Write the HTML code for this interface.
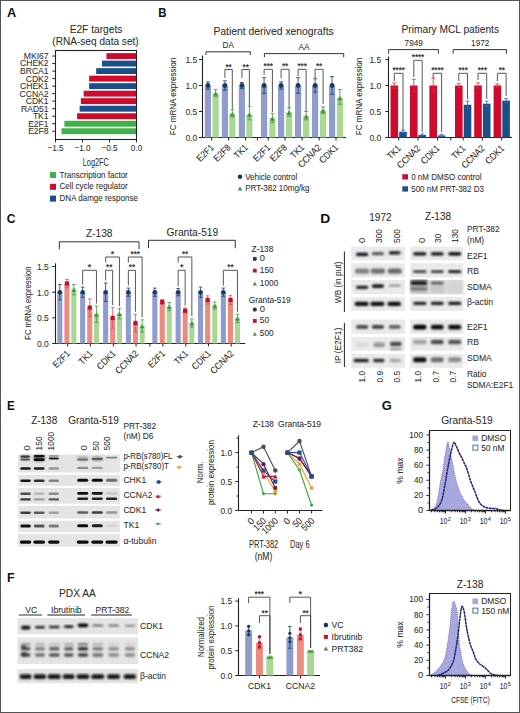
<!DOCTYPE html>
<html><head><meta charset="utf-8"><style>
html,body{margin:0;padding:0;background:#fff;}
body{width:520px;height:713px;overflow:hidden;position:relative;}
svg{position:absolute;left:0;top:0;font-family:"Liberation Sans", sans-serif;}
</style></head><body>
<svg width="520" height="713" viewBox="0 0 520 713">
<defs>
<filter id="bl0" x="-50%" y="-50%" width="200%" height="200%"><feGaussianBlur stdDeviation="0.45"/></filter>
<filter id="bl1" x="-50%" y="-50%" width="200%" height="200%"><feGaussianBlur stdDeviation="0.8"/></filter>
<filter id="bl2" x="-50%" y="-50%" width="200%" height="200%"><feGaussianBlur stdDeviation="1.2"/></filter>
</defs>
<rect x="0" y="0" width="520" height="713" fill="#fff"/>
<text x="0" y="0" font-size="12.5" font-weight="bold" fill="#111" transform="translate(6.88 16.80) scale(1.026 1)">A</text>
<text x="96.00" y="32.50" font-size="11.42" text-anchor="middle" fill="#2b2b2b" textLength="52.72" lengthAdjust="spacingAndGlyphs" stroke="#2b2b2b" stroke-width="0.06" >E2F targets</text>
<text x="95.50" y="44.50" font-size="11.31" text-anchor="middle" fill="#2b2b2b" textLength="86.44" lengthAdjust="spacingAndGlyphs" stroke="#2b2b2b" stroke-width="0.06" >(RNA-seq data set)</text>
<rect x="106.48" y="53.10" width="30.02" height="5.90" fill="#cf0a2c" />
<line x1="52.20" y1="56.05" x2="55.50" y2="56.05" stroke="#222" stroke-width="1" />
<text x="48.60" y="58.95" font-size="8.96" text-anchor="end" fill="#2b2b2b" textLength="24.74" lengthAdjust="spacingAndGlyphs" stroke="#2b2b2b" stroke-width="0.06" >MKI67</text>
<rect x="102.05" y="60.62" width="34.45" height="5.90" fill="#1a4f8b" />
<line x1="52.20" y1="63.57" x2="55.50" y2="63.57" stroke="#222" stroke-width="1" />
<text x="48.60" y="66.47" font-size="8.96" text-anchor="end" fill="#2b2b2b" textLength="28.54" lengthAdjust="spacingAndGlyphs" stroke="#2b2b2b" stroke-width="0.06" >CHEK2</text>
<rect x="96.16" y="68.14" width="40.34" height="5.90" fill="#1a4f8b" />
<line x1="52.20" y1="71.09" x2="55.50" y2="71.09" stroke="#222" stroke-width="1" />
<text x="48.60" y="73.99" font-size="8.96" text-anchor="end" fill="#2b2b2b" textLength="28.54" lengthAdjust="spacingAndGlyphs" stroke="#2b2b2b" stroke-width="0.06" >BRCA1</text>
<rect x="89.14" y="75.66" width="47.36" height="5.90" fill="#cf0a2c" />
<line x1="52.20" y1="78.61" x2="55.50" y2="78.61" stroke="#222" stroke-width="1" />
<text x="48.60" y="81.51" font-size="8.96" text-anchor="end" fill="#2b2b2b" textLength="22.83" lengthAdjust="spacingAndGlyphs" stroke="#2b2b2b" stroke-width="0.06" >CDK2</text>
<rect x="89.14" y="83.18" width="47.36" height="5.90" fill="#1a4f8b" />
<line x1="52.20" y1="86.13" x2="55.50" y2="86.13" stroke="#222" stroke-width="1" />
<text x="48.60" y="89.03" font-size="8.96" text-anchor="end" fill="#2b2b2b" textLength="28.54" lengthAdjust="spacingAndGlyphs" stroke="#2b2b2b" stroke-width="0.06" >CHEK1</text>
<rect x="83.63" y="90.70" width="52.87" height="5.90" fill="#cf0a2c" />
<line x1="52.20" y1="93.65" x2="55.50" y2="93.65" stroke="#222" stroke-width="1" />
<text x="48.60" y="96.55" font-size="8.96" text-anchor="end" fill="#2b2b2b" textLength="29.02" lengthAdjust="spacingAndGlyphs" stroke="#2b2b2b" stroke-width="0.06" >CCNA2</text>
<rect x="80.88" y="98.22" width="55.62" height="5.90" fill="#cf0a2c" />
<line x1="52.20" y1="101.17" x2="55.50" y2="101.17" stroke="#222" stroke-width="1" />
<text x="48.60" y="104.07" font-size="8.96" text-anchor="end" fill="#2b2b2b" textLength="22.83" lengthAdjust="spacingAndGlyphs" stroke="#2b2b2b" stroke-width="0.06" >CDK1</text>
<rect x="79.64" y="105.74" width="56.86" height="5.90" fill="#1a4f8b" />
<line x1="52.20" y1="108.69" x2="55.50" y2="108.69" stroke="#222" stroke-width="1" />
<text x="48.60" y="111.59" font-size="8.96" text-anchor="end" fill="#2b2b2b" textLength="27.60" lengthAdjust="spacingAndGlyphs" stroke="#2b2b2b" stroke-width="0.06" >RAD51</text>
<rect x="77.10" y="113.26" width="59.40" height="5.90" fill="#cf0a2c" />
<line x1="52.20" y1="116.21" x2="55.50" y2="116.21" stroke="#222" stroke-width="1" />
<text x="48.60" y="119.11" font-size="8.96" text-anchor="end" fill="#2b2b2b" textLength="15.70" lengthAdjust="spacingAndGlyphs" stroke="#2b2b2b" stroke-width="0.06" >TK1</text>
<rect x="64.41" y="120.78" width="72.09" height="5.90" fill="#3fb04a" />
<line x1="52.20" y1="123.73" x2="55.50" y2="123.73" stroke="#222" stroke-width="1" />
<text x="48.60" y="126.63" font-size="8.96" text-anchor="end" fill="#2b2b2b" textLength="20.46" lengthAdjust="spacingAndGlyphs" stroke="#2b2b2b" stroke-width="0.06" >E2F1</text>
<rect x="61.60" y="128.30" width="74.90" height="5.90" fill="#3fb04a" />
<line x1="52.20" y1="131.25" x2="55.50" y2="131.25" stroke="#222" stroke-width="1" />
<text x="48.60" y="134.15" font-size="8.96" text-anchor="end" fill="#2b2b2b" textLength="20.46" lengthAdjust="spacingAndGlyphs" stroke="#2b2b2b" stroke-width="0.06" >E2F8</text>
<rect x="55.50" y="50.50" width="81.00" height="89.00" fill="none" stroke="#222" stroke-width="1.1"/>
<line x1="55.50" y1="139.50" x2="55.50" y2="142.50" stroke="#222" stroke-width="1" />
<text x="55.50" y="151.30" font-size="9.18" text-anchor="middle" fill="#2b2b2b" textLength="16.19" lengthAdjust="spacingAndGlyphs" stroke="#2b2b2b" stroke-width="0.06" >−1.5</text>
<line x1="82.50" y1="139.50" x2="82.50" y2="142.50" stroke="#222" stroke-width="1" />
<text x="82.50" y="151.30" font-size="9.18" text-anchor="middle" fill="#2b2b2b" textLength="16.19" lengthAdjust="spacingAndGlyphs" stroke="#2b2b2b" stroke-width="0.06" >−1.0</text>
<line x1="109.50" y1="139.50" x2="109.50" y2="142.50" stroke="#222" stroke-width="1" />
<text x="109.50" y="151.30" font-size="9.18" text-anchor="middle" fill="#2b2b2b" textLength="16.19" lengthAdjust="spacingAndGlyphs" stroke="#2b2b2b" stroke-width="0.06" >−0.5</text>
<line x1="136.50" y1="139.50" x2="136.50" y2="142.50" stroke="#222" stroke-width="1" />
<text x="136.50" y="151.30" font-size="9.18" text-anchor="middle" fill="#2b2b2b" textLength="11.40" lengthAdjust="spacingAndGlyphs" stroke="#2b2b2b" stroke-width="0.06" >0.0</text>
<text x="95.80" y="165.80" font-size="10.60" text-anchor="middle" fill="#2b2b2b" textLength="26.00" lengthAdjust="spacingAndGlyphs" stroke="#2b2b2b" stroke-width="0.06" >Log2FC</text>
<rect x="50.00" y="172.00" width="6.00" height="6.00" fill="#3fb04a" />
<text x="59.60" y="177.60" font-size="8.96" text-anchor="start" fill="#2b2b2b" textLength="68.17" lengthAdjust="spacingAndGlyphs" stroke="#2b2b2b" stroke-width="0.06" >Transcription factor</text>
<rect x="50.00" y="183.80" width="6.00" height="6.00" fill="#cf0a2c" />
<text x="59.60" y="189.40" font-size="8.96" text-anchor="start" fill="#2b2b2b" textLength="68.03" lengthAdjust="spacingAndGlyphs" stroke="#2b2b2b" stroke-width="0.06" >Cell cycle regulator</text>
<rect x="50.00" y="195.60" width="6.00" height="6.00" fill="#1a4f8b" />
<text x="59.60" y="201.20" font-size="8.96" text-anchor="start" fill="#2b2b2b" textLength="78.27" lengthAdjust="spacingAndGlyphs" stroke="#2b2b2b" stroke-width="0.06" >DNA damge response</text>
<text x="0" y="0" font-size="12.5" font-weight="bold" fill="#111" transform="translate(158.33 16.90) scale(0.919 1)">B</text>
<text x="273.60" y="35.30" font-size="11.60" text-anchor="middle" fill="#2b2b2b" textLength="120.37" lengthAdjust="spacingAndGlyphs" stroke="#2b2b2b" stroke-width="0.06" >Patient derived xenografts</text>
<line x1="202.50" y1="55.60" x2="202.50" y2="137.50" stroke="#222" stroke-width="1.1" />
<line x1="202.50" y1="137.50" x2="346.00" y2="137.50" stroke="#222" stroke-width="1.1" />
<line x1="199.00" y1="137.50" x2="202.50" y2="137.50" stroke="#222" stroke-width="1" />
<text x="197.20" y="140.80" font-size="9.52" text-anchor="end" fill="#2b2b2b" textLength="11.82" lengthAdjust="spacingAndGlyphs" stroke="#2b2b2b" stroke-width="0.06" >0.0</text>
<line x1="199.00" y1="111.50" x2="202.50" y2="111.50" stroke="#222" stroke-width="1" />
<text x="197.20" y="114.80" font-size="9.52" text-anchor="end" fill="#2b2b2b" textLength="11.82" lengthAdjust="spacingAndGlyphs" stroke="#2b2b2b" stroke-width="0.06" >0.5</text>
<line x1="199.00" y1="85.50" x2="202.50" y2="85.50" stroke="#222" stroke-width="1" />
<text x="197.20" y="88.80" font-size="9.52" text-anchor="end" fill="#2b2b2b" textLength="11.82" lengthAdjust="spacingAndGlyphs" stroke="#2b2b2b" stroke-width="0.06" >1.0</text>
<line x1="199.00" y1="59.50" x2="202.50" y2="59.50" stroke="#222" stroke-width="1" />
<text x="197.20" y="62.80" font-size="9.52" text-anchor="end" fill="#2b2b2b" textLength="11.82" lengthAdjust="spacingAndGlyphs" stroke="#2b2b2b" stroke-width="0.06" >1.5</text>
<text x="176.00" y="96.50" font-size="8.60" text-anchor="middle" fill="#2b2b2b" textLength="77.40" lengthAdjust="spacingAndGlyphs" stroke="#2b2b2b" stroke-width="0.06" transform="rotate(-90 176.00 96.50)" >FC mRNA expression</text>
<rect x="204.80" y="85.50" width="6.20" height="52.00" fill="#8f9dcc" />
<rect x="212.50" y="93.56" width="6.20" height="43.94" fill="#abd794" />
<line x1="207.90" y1="81.86" x2="207.90" y2="89.14" stroke="#173a63" stroke-width="0.8" />
<line x1="205.90" y1="81.86" x2="209.90" y2="81.86" stroke="#173a63" stroke-width="0.8" />
<line x1="205.90" y1="89.14" x2="209.90" y2="89.14" stroke="#173a63" stroke-width="0.8" />
<line x1="215.60" y1="89.40" x2="215.60" y2="96.68" stroke="#3c9a3c" stroke-width="0.8" />
<line x1="213.60" y1="89.40" x2="217.60" y2="89.40" stroke="#3c9a3c" stroke-width="0.8" />
<line x1="213.60" y1="96.68" x2="217.60" y2="96.68" stroke="#3c9a3c" stroke-width="0.8" />
<circle cx="207.90" cy="85.50" r="2.4" fill="#173a63" />
<path d="M213.10,95.81 L218.10,95.81 L215.60,91.31 Z" fill="#3c9a3c"/>
<line x1="211.75" y1="137.50" x2="211.75" y2="140.50" stroke="#222" stroke-width="1" />
<rect x="221.80" y="85.50" width="6.20" height="52.00" fill="#8f9dcc" />
<rect x="229.20" y="113.89" width="6.20" height="23.61" fill="#abd794" />
<line x1="224.90" y1="80.82" x2="224.90" y2="90.18" stroke="#173a63" stroke-width="0.8" />
<line x1="222.90" y1="80.82" x2="226.90" y2="80.82" stroke="#173a63" stroke-width="0.8" />
<line x1="222.90" y1="90.18" x2="226.90" y2="90.18" stroke="#173a63" stroke-width="0.8" />
<line x1="232.30" y1="109.73" x2="232.30" y2="117.01" stroke="#3c9a3c" stroke-width="0.8" />
<line x1="230.30" y1="109.73" x2="234.30" y2="109.73" stroke="#3c9a3c" stroke-width="0.8" />
<line x1="230.30" y1="117.01" x2="234.30" y2="117.01" stroke="#3c9a3c" stroke-width="0.8" />
<circle cx="224.90" cy="85.50" r="2.4" fill="#173a63" />
<path d="M229.80,116.14 L234.80,116.14 L232.30,111.64 Z" fill="#3c9a3c"/>
<line x1="228.60" y1="137.50" x2="228.60" y2="140.50" stroke="#222" stroke-width="1" />
<rect x="238.80" y="85.50" width="6.20" height="52.00" fill="#8f9dcc" />
<rect x="246.30" y="114.62" width="6.20" height="22.88" fill="#abd794" />
<line x1="241.90" y1="82.38" x2="241.90" y2="88.62" stroke="#173a63" stroke-width="0.8" />
<line x1="239.90" y1="82.38" x2="243.90" y2="82.38" stroke="#173a63" stroke-width="0.8" />
<line x1="239.90" y1="88.62" x2="243.90" y2="88.62" stroke="#173a63" stroke-width="0.8" />
<line x1="249.40" y1="106.30" x2="249.40" y2="119.82" stroke="#3c9a3c" stroke-width="0.8" />
<line x1="247.40" y1="106.30" x2="251.40" y2="106.30" stroke="#3c9a3c" stroke-width="0.8" />
<line x1="247.40" y1="119.82" x2="251.40" y2="119.82" stroke="#3c9a3c" stroke-width="0.8" />
<circle cx="241.90" cy="85.50" r="2.4" fill="#173a63" />
<path d="M246.90,116.87 L251.90,116.87 L249.40,112.37 Z" fill="#3c9a3c"/>
<line x1="245.65" y1="137.50" x2="245.65" y2="140.50" stroke="#222" stroke-width="1" />
<rect x="261.00" y="85.50" width="6.20" height="52.00" fill="#8f9dcc" />
<rect x="269.30" y="118.52" width="6.20" height="18.98" fill="#abd794" />
<line x1="264.10" y1="77.70" x2="264.10" y2="93.30" stroke="#173a63" stroke-width="0.8" />
<line x1="262.10" y1="77.70" x2="266.10" y2="77.70" stroke="#173a63" stroke-width="0.8" />
<line x1="262.10" y1="93.30" x2="266.10" y2="93.30" stroke="#173a63" stroke-width="0.8" />
<line x1="272.40" y1="113.32" x2="272.40" y2="122.68" stroke="#3c9a3c" stroke-width="0.8" />
<line x1="270.40" y1="113.32" x2="274.40" y2="113.32" stroke="#3c9a3c" stroke-width="0.8" />
<line x1="270.40" y1="122.68" x2="274.40" y2="122.68" stroke="#3c9a3c" stroke-width="0.8" />
<circle cx="264.10" cy="85.50" r="2.4" fill="#173a63" />
<path d="M269.90,120.77 L274.90,120.77 L272.40,116.27 Z" fill="#3c9a3c"/>
<line x1="268.25" y1="137.50" x2="268.25" y2="140.50" stroke="#222" stroke-width="1" />
<rect x="278.00" y="85.50" width="6.20" height="52.00" fill="#8f9dcc" />
<rect x="286.00" y="112.54" width="6.20" height="24.96" fill="#abd794" />
<line x1="281.10" y1="81.86" x2="281.10" y2="89.14" stroke="#173a63" stroke-width="0.8" />
<line x1="279.10" y1="81.86" x2="283.10" y2="81.86" stroke="#173a63" stroke-width="0.8" />
<line x1="279.10" y1="89.14" x2="283.10" y2="89.14" stroke="#173a63" stroke-width="0.8" />
<line x1="289.10" y1="107.86" x2="289.10" y2="116.18" stroke="#3c9a3c" stroke-width="0.8" />
<line x1="287.10" y1="107.86" x2="291.10" y2="107.86" stroke="#3c9a3c" stroke-width="0.8" />
<line x1="287.10" y1="116.18" x2="291.10" y2="116.18" stroke="#3c9a3c" stroke-width="0.8" />
<circle cx="281.10" cy="85.50" r="2.4" fill="#173a63" />
<path d="M286.60,114.79 L291.60,114.79 L289.10,110.29 Z" fill="#3c9a3c"/>
<line x1="285.10" y1="137.50" x2="285.10" y2="140.50" stroke="#222" stroke-width="1" />
<rect x="295.00" y="85.50" width="6.20" height="52.00" fill="#8f9dcc" />
<rect x="303.00" y="116.18" width="6.20" height="21.32" fill="#abd794" />
<line x1="298.10" y1="77.70" x2="298.10" y2="93.30" stroke="#173a63" stroke-width="0.8" />
<line x1="296.10" y1="77.70" x2="300.10" y2="77.70" stroke="#173a63" stroke-width="0.8" />
<line x1="296.10" y1="93.30" x2="300.10" y2="93.30" stroke="#173a63" stroke-width="0.8" />
<line x1="306.10" y1="111.50" x2="306.10" y2="119.82" stroke="#3c9a3c" stroke-width="0.8" />
<line x1="304.10" y1="111.50" x2="308.10" y2="111.50" stroke="#3c9a3c" stroke-width="0.8" />
<line x1="304.10" y1="119.82" x2="308.10" y2="119.82" stroke="#3c9a3c" stroke-width="0.8" />
<circle cx="298.10" cy="85.50" r="2.4" fill="#173a63" />
<path d="M303.60,118.43 L308.60,118.43 L306.10,113.93 Z" fill="#3c9a3c"/>
<line x1="302.10" y1="137.50" x2="302.10" y2="140.50" stroke="#222" stroke-width="1" />
<rect x="312.00" y="85.50" width="6.20" height="52.00" fill="#8f9dcc" />
<rect x="320.00" y="110.46" width="6.20" height="27.04" fill="#abd794" />
<line x1="315.10" y1="78.74" x2="315.10" y2="92.26" stroke="#173a63" stroke-width="0.8" />
<line x1="313.10" y1="78.74" x2="317.10" y2="78.74" stroke="#173a63" stroke-width="0.8" />
<line x1="313.10" y1="92.26" x2="317.10" y2="92.26" stroke="#173a63" stroke-width="0.8" />
<line x1="323.10" y1="106.82" x2="323.10" y2="113.58" stroke="#3c9a3c" stroke-width="0.8" />
<line x1="321.10" y1="106.82" x2="325.10" y2="106.82" stroke="#3c9a3c" stroke-width="0.8" />
<line x1="321.10" y1="113.58" x2="325.10" y2="113.58" stroke="#3c9a3c" stroke-width="0.8" />
<circle cx="315.10" cy="85.50" r="2.4" fill="#173a63" />
<path d="M320.60,112.71 L325.60,112.71 L323.10,108.21 Z" fill="#3c9a3c"/>
<line x1="319.10" y1="137.50" x2="319.10" y2="140.50" stroke="#222" stroke-width="1" />
<rect x="329.00" y="85.50" width="6.20" height="52.00" fill="#8f9dcc" />
<rect x="336.80" y="97.98" width="6.20" height="39.52" fill="#abd794" />
<line x1="332.10" y1="76.66" x2="332.10" y2="94.34" stroke="#173a63" stroke-width="0.8" />
<line x1="330.10" y1="76.66" x2="334.10" y2="76.66" stroke="#173a63" stroke-width="0.8" />
<line x1="330.10" y1="94.34" x2="334.10" y2="94.34" stroke="#173a63" stroke-width="0.8" />
<line x1="339.90" y1="89.66" x2="339.90" y2="104.22" stroke="#3c9a3c" stroke-width="0.8" />
<line x1="337.90" y1="89.66" x2="341.90" y2="89.66" stroke="#3c9a3c" stroke-width="0.8" />
<line x1="337.90" y1="104.22" x2="341.90" y2="104.22" stroke="#3c9a3c" stroke-width="0.8" />
<circle cx="332.10" cy="85.50" r="2.4" fill="#173a63" />
<path d="M337.40,100.23 L342.40,100.23 L339.90,95.73 Z" fill="#3c9a3c"/>
<line x1="336.00" y1="137.50" x2="336.00" y2="140.50" stroke="#222" stroke-width="1" />
<line x1="257.40" y1="137.50" x2="257.40" y2="140.50" stroke="#222" stroke-width="1" />
<path d="M224.90,77.90 L224.90,69.50 L232.30,69.50 L232.30,108.90" stroke="#444" fill="none" stroke-width="0.9" />
<text x="228.60" y="69.60" font-size="8.96" text-anchor="middle" fill="#3a3a3a" font-weight="bold" textLength="6.23" lengthAdjust="spacingAndGlyphs" >**</text>
<path d="M241.90,77.90 L241.90,69.50 L249.40,69.50 L249.40,105.90" stroke="#444" fill="none" stroke-width="0.9" />
<text x="245.65" y="69.60" font-size="8.96" text-anchor="middle" fill="#3a3a3a" font-weight="bold" textLength="6.23" lengthAdjust="spacingAndGlyphs" >**</text>
<path d="M264.10,74.90 L264.10,69.30 L272.40,69.30 L272.40,112.00" stroke="#444" fill="none" stroke-width="0.9" />
<text x="268.25" y="69.40" font-size="8.96" text-anchor="middle" fill="#3a3a3a" font-weight="bold" textLength="9.34" lengthAdjust="spacingAndGlyphs" >***</text>
<path d="M281.10,78.50 L281.10,69.30 L289.10,69.30 L289.10,108.00" stroke="#444" fill="none" stroke-width="0.9" />
<text x="285.10" y="69.40" font-size="8.96" text-anchor="middle" fill="#3a3a3a" font-weight="bold" textLength="6.23" lengthAdjust="spacingAndGlyphs" >**</text>
<path d="M298.10,76.00 L298.10,69.30 L306.10,69.30 L306.10,111.00" stroke="#444" fill="none" stroke-width="0.9" />
<text x="302.10" y="69.40" font-size="8.96" text-anchor="middle" fill="#3a3a3a" font-weight="bold" textLength="9.34" lengthAdjust="spacingAndGlyphs" >***</text>
<path d="M315.10,78.00 L315.10,69.30 L323.10,69.30 L323.10,104.00" stroke="#444" fill="none" stroke-width="0.9" />
<text x="319.10" y="69.40" font-size="8.96" text-anchor="middle" fill="#3a3a3a" font-weight="bold" textLength="6.23" lengthAdjust="spacingAndGlyphs" >**</text>
<path d="M206,55 L206,51.8 L250.3,51.8 L250.3,55" stroke="#333" fill="none" stroke-width="1" />
<text x="228.30" y="48.30" font-size="9.18" text-anchor="middle" fill="#2b2b2b" textLength="11.39" lengthAdjust="spacingAndGlyphs" stroke="#2b2b2b" stroke-width="0.06" >DA</text>
<path d="M264.4,57.2 L264.4,53.6 L343.7,53.6 L343.7,57.2" stroke="#333" fill="none" stroke-width="1" />
<text x="304.00" y="49.80" font-size="9.18" text-anchor="middle" fill="#2b2b2b" textLength="10.94" lengthAdjust="spacingAndGlyphs" stroke="#2b2b2b" stroke-width="0.06" >AA</text>
<text x="214.55" y="148.10" font-size="9.41" text-anchor="end" fill="#2b2b2b" textLength="20.08" lengthAdjust="spacingAndGlyphs" stroke="#2b2b2b" stroke-width="0.06" transform="rotate(-45 214.55 148.10)" >E2F1</text>
<text x="231.40" y="148.10" font-size="9.41" text-anchor="end" fill="#2b2b2b" textLength="20.08" lengthAdjust="spacingAndGlyphs" stroke="#2b2b2b" stroke-width="0.06" transform="rotate(-45 231.40 148.10)" >E2F8</text>
<text x="248.45" y="148.10" font-size="9.41" text-anchor="end" fill="#2b2b2b" textLength="15.41" lengthAdjust="spacingAndGlyphs" stroke="#2b2b2b" stroke-width="0.06" transform="rotate(-45 248.45 148.10)" >TK1</text>
<text x="271.05" y="148.10" font-size="9.41" text-anchor="end" fill="#2b2b2b" textLength="20.08" lengthAdjust="spacingAndGlyphs" stroke="#2b2b2b" stroke-width="0.06" transform="rotate(-45 271.05 148.10)" >E2F1</text>
<text x="287.90" y="148.10" font-size="9.41" text-anchor="end" fill="#2b2b2b" textLength="20.08" lengthAdjust="spacingAndGlyphs" stroke="#2b2b2b" stroke-width="0.06" transform="rotate(-45 287.90 148.10)" >E2F8</text>
<text x="304.90" y="148.10" font-size="9.41" text-anchor="end" fill="#2b2b2b" textLength="15.41" lengthAdjust="spacingAndGlyphs" stroke="#2b2b2b" stroke-width="0.06" transform="rotate(-45 304.90 148.10)" >TK1</text>
<text x="321.90" y="148.10" font-size="9.41" text-anchor="end" fill="#2b2b2b" textLength="28.47" lengthAdjust="spacingAndGlyphs" stroke="#2b2b2b" stroke-width="0.06" transform="rotate(-45 321.90 148.10)" >CCNA2</text>
<text x="338.80" y="148.10" font-size="9.41" text-anchor="end" fill="#2b2b2b" textLength="22.41" lengthAdjust="spacingAndGlyphs" stroke="#2b2b2b" stroke-width="0.06" transform="rotate(-45 338.80 148.10)" >CDK1</text>
<circle cx="240.00" cy="176.70" r="2.3" fill="#173a63" />
<text x="245.20" y="179.60" font-size="8.96" text-anchor="start" fill="#2b2b2b" textLength="52.03" lengthAdjust="spacingAndGlyphs" stroke="#2b2b2b" stroke-width="0.06" >Vehicle control</text>
<path d="M237.70,190.47 L242.30,190.47 L240.00,186.33 Z" fill="#3c9a3c"/>
<text x="245.20" y="191.30" font-size="8.96" text-anchor="start" fill="#2b2b2b" textLength="64.33" lengthAdjust="spacingAndGlyphs" stroke="#2b2b2b" stroke-width="0.06" >PRT-382 10mg/kg</text>
<text x="450.30" y="32.90" font-size="11.40" text-anchor="middle" fill="#2b2b2b" textLength="97.49" lengthAdjust="spacingAndGlyphs" stroke="#2b2b2b" stroke-width="0.06" >Primary MCL patients</text>
<line x1="388.50" y1="56.50" x2="388.50" y2="137.50" stroke="#222" stroke-width="1.1" />
<line x1="388.50" y1="137.50" x2="512.00" y2="137.50" stroke="#222" stroke-width="1.1" />
<line x1="385.30" y1="137.50" x2="388.50" y2="137.50" stroke="#222" stroke-width="1" />
<text x="381.20" y="140.80" font-size="9.52" text-anchor="end" fill="#2b2b2b" textLength="11.82" lengthAdjust="spacingAndGlyphs" stroke="#2b2b2b" stroke-width="0.06" >0.0</text>
<line x1="385.30" y1="111.50" x2="388.50" y2="111.50" stroke="#222" stroke-width="1" />
<text x="381.20" y="114.80" font-size="9.52" text-anchor="end" fill="#2b2b2b" textLength="11.82" lengthAdjust="spacingAndGlyphs" stroke="#2b2b2b" stroke-width="0.06" >0.5</text>
<line x1="385.30" y1="85.50" x2="388.50" y2="85.50" stroke="#222" stroke-width="1" />
<text x="381.20" y="88.80" font-size="9.52" text-anchor="end" fill="#2b2b2b" textLength="11.82" lengthAdjust="spacingAndGlyphs" stroke="#2b2b2b" stroke-width="0.06" >1.0</text>
<line x1="385.30" y1="59.50" x2="388.50" y2="59.50" stroke="#222" stroke-width="1" />
<text x="381.20" y="62.80" font-size="9.52" text-anchor="end" fill="#2b2b2b" textLength="11.82" lengthAdjust="spacingAndGlyphs" stroke="#2b2b2b" stroke-width="0.06" >1.5</text>
<text x="361.80" y="96.50" font-size="8.60" text-anchor="middle" fill="#2b2b2b" textLength="77.40" lengthAdjust="spacingAndGlyphs" stroke="#2b2b2b" stroke-width="0.06" transform="rotate(-90 361.80 96.50)" >FC mRNA expression</text>
<rect x="390.50" y="85.50" width="7.60" height="52.00" fill="#cf0a2c" />
<rect x="399.20" y="131.78" width="7.60" height="5.72" fill="#1a4f8b" />
<line x1="394.30" y1="82.90" x2="394.30" y2="88.10" stroke="#c83848" stroke-width="0.8" />
<line x1="392.30" y1="82.90" x2="396.30" y2="82.90" stroke="#c83848" stroke-width="0.8" />
<line x1="392.30" y1="88.10" x2="396.30" y2="88.10" stroke="#c83848" stroke-width="0.8" />
<line x1="403.00" y1="130.22" x2="403.00" y2="133.34" stroke="#3a6aa8" stroke-width="0.8" />
<line x1="401.00" y1="130.22" x2="405.00" y2="130.22" stroke="#3a6aa8" stroke-width="0.8" />
<line x1="401.00" y1="133.34" x2="405.00" y2="133.34" stroke="#3a6aa8" stroke-width="0.8" />
<line x1="398.65" y1="137.50" x2="398.65" y2="140.50" stroke="#222" stroke-width="1" />
<rect x="410.00" y="85.50" width="7.60" height="52.00" fill="#cf0a2c" />
<rect x="418.40" y="134.90" width="7.60" height="2.60" fill="#1a4f8b" />
<line x1="413.80" y1="79.26" x2="413.80" y2="91.74" stroke="#c83848" stroke-width="0.8" />
<line x1="411.80" y1="79.26" x2="415.80" y2="79.26" stroke="#c83848" stroke-width="0.8" />
<line x1="411.80" y1="91.74" x2="415.80" y2="91.74" stroke="#c83848" stroke-width="0.8" />
<line x1="422.20" y1="133.86" x2="422.20" y2="135.94" stroke="#3a6aa8" stroke-width="0.8" />
<line x1="420.20" y1="133.86" x2="424.20" y2="133.86" stroke="#3a6aa8" stroke-width="0.8" />
<line x1="420.20" y1="135.94" x2="424.20" y2="135.94" stroke="#3a6aa8" stroke-width="0.8" />
<line x1="418.00" y1="137.50" x2="418.00" y2="140.50" stroke="#222" stroke-width="1" />
<rect x="429.40" y="85.50" width="7.60" height="52.00" fill="#cf0a2c" />
<rect x="437.80" y="135.42" width="7.60" height="2.08" fill="#1a4f8b" />
<line x1="433.20" y1="78.22" x2="433.20" y2="92.78" stroke="#c83848" stroke-width="0.8" />
<line x1="431.20" y1="78.22" x2="435.20" y2="78.22" stroke="#c83848" stroke-width="0.8" />
<line x1="431.20" y1="92.78" x2="435.20" y2="92.78" stroke="#c83848" stroke-width="0.8" />
<line x1="441.60" y1="134.38" x2="441.60" y2="136.46" stroke="#3a6aa8" stroke-width="0.8" />
<line x1="439.60" y1="134.38" x2="443.60" y2="134.38" stroke="#3a6aa8" stroke-width="0.8" />
<line x1="439.60" y1="136.46" x2="443.60" y2="136.46" stroke="#3a6aa8" stroke-width="0.8" />
<line x1="437.40" y1="137.50" x2="437.40" y2="140.50" stroke="#222" stroke-width="1" />
<rect x="455.00" y="85.50" width="7.60" height="52.00" fill="#cf0a2c" />
<rect x="463.70" y="104.74" width="7.60" height="32.76" fill="#1a4f8b" />
<line x1="458.80" y1="83.42" x2="458.80" y2="87.58" stroke="#c83848" stroke-width="0.8" />
<line x1="456.80" y1="83.42" x2="460.80" y2="83.42" stroke="#c83848" stroke-width="0.8" />
<line x1="456.80" y1="87.58" x2="460.80" y2="87.58" stroke="#c83848" stroke-width="0.8" />
<line x1="467.50" y1="101.10" x2="467.50" y2="108.38" stroke="#3a6aa8" stroke-width="0.8" />
<line x1="465.50" y1="101.10" x2="469.50" y2="101.10" stroke="#3a6aa8" stroke-width="0.8" />
<line x1="465.50" y1="108.38" x2="469.50" y2="108.38" stroke="#3a6aa8" stroke-width="0.8" />
<line x1="463.15" y1="137.50" x2="463.15" y2="140.50" stroke="#222" stroke-width="1" />
<rect x="474.20" y="85.50" width="7.60" height="52.00" fill="#cf0a2c" />
<rect x="482.90" y="103.70" width="7.60" height="33.80" fill="#1a4f8b" />
<line x1="478.00" y1="82.90" x2="478.00" y2="88.10" stroke="#c83848" stroke-width="0.8" />
<line x1="476.00" y1="82.90" x2="480.00" y2="82.90" stroke="#c83848" stroke-width="0.8" />
<line x1="476.00" y1="88.10" x2="480.00" y2="88.10" stroke="#c83848" stroke-width="0.8" />
<line x1="486.70" y1="101.10" x2="486.70" y2="106.30" stroke="#3a6aa8" stroke-width="0.8" />
<line x1="484.70" y1="101.10" x2="488.70" y2="101.10" stroke="#3a6aa8" stroke-width="0.8" />
<line x1="484.70" y1="106.30" x2="488.70" y2="106.30" stroke="#3a6aa8" stroke-width="0.8" />
<line x1="482.35" y1="137.50" x2="482.35" y2="140.50" stroke="#222" stroke-width="1" />
<rect x="493.60" y="85.50" width="7.60" height="52.00" fill="#cf0a2c" />
<rect x="502.30" y="100.58" width="7.60" height="36.92" fill="#1a4f8b" />
<line x1="497.40" y1="83.94" x2="497.40" y2="87.06" stroke="#c83848" stroke-width="0.8" />
<line x1="495.40" y1="83.94" x2="499.40" y2="83.94" stroke="#c83848" stroke-width="0.8" />
<line x1="495.40" y1="87.06" x2="499.40" y2="87.06" stroke="#c83848" stroke-width="0.8" />
<line x1="506.10" y1="98.50" x2="506.10" y2="102.66" stroke="#3a6aa8" stroke-width="0.8" />
<line x1="504.10" y1="98.50" x2="508.10" y2="98.50" stroke="#3a6aa8" stroke-width="0.8" />
<line x1="504.10" y1="102.66" x2="508.10" y2="102.66" stroke="#3a6aa8" stroke-width="0.8" />
<line x1="501.75" y1="137.50" x2="501.75" y2="140.50" stroke="#222" stroke-width="1" />
<line x1="450.80" y1="137.50" x2="450.80" y2="140.50" stroke="#222" stroke-width="1" />
<path d="M394.30,81.00 L394.30,73.30 L403.00,73.30 L403.00,130.00" stroke="#444" fill="none" stroke-width="0.9" />
<text x="398.65" y="73.40" font-size="8.96" text-anchor="middle" fill="#3a3a3a" font-weight="bold" textLength="12.45" lengthAdjust="spacingAndGlyphs" >****</text>
<path d="M413.80,77.00 L413.80,60.30 L422.20,60.30 L422.20,132.00" stroke="#444" fill="none" stroke-width="0.9" />
<text x="418.00" y="60.40" font-size="8.96" text-anchor="middle" fill="#3a3a3a" font-weight="bold" textLength="12.45" lengthAdjust="spacingAndGlyphs" >****</text>
<path d="M433.20,78.00 L433.20,73.30 L441.60,73.30 L441.60,132.00" stroke="#444" fill="none" stroke-width="0.9" />
<text x="437.40" y="73.40" font-size="8.96" text-anchor="middle" fill="#3a3a3a" font-weight="bold" textLength="12.45" lengthAdjust="spacingAndGlyphs" >****</text>
<path d="M458.80,81.00 L458.80,73.30 L467.50,73.30 L467.50,99.00" stroke="#444" fill="none" stroke-width="0.9" />
<text x="463.15" y="73.40" font-size="8.96" text-anchor="middle" fill="#3a3a3a" font-weight="bold" textLength="9.34" lengthAdjust="spacingAndGlyphs" >***</text>
<path d="M478.00,80.00 L478.00,73.30 L486.70,73.30 L486.70,99.00" stroke="#444" fill="none" stroke-width="0.9" />
<text x="482.35" y="73.40" font-size="8.96" text-anchor="middle" fill="#3a3a3a" font-weight="bold" textLength="9.34" lengthAdjust="spacingAndGlyphs" >***</text>
<path d="M497.40,81.00 L497.40,73.30 L506.10,73.30 L506.10,96.00" stroke="#444" fill="none" stroke-width="0.9" />
<text x="501.75" y="73.40" font-size="8.96" text-anchor="middle" fill="#3a3a3a" font-weight="bold" textLength="6.23" lengthAdjust="spacingAndGlyphs" >**</text>
<path d="M388.6,53.7 L388.6,49.6 L438.4,49.6 L438.4,53.7" stroke="#333" fill="none" stroke-width="1" />
<text x="413.70" y="45.60" font-size="9.18" text-anchor="middle" fill="#2b2b2b" textLength="18.24" lengthAdjust="spacingAndGlyphs" stroke="#2b2b2b" stroke-width="0.06" >7949</text>
<path d="M453.2,53.7 L453.2,49.6 L506.5,49.6 L506.5,53.7" stroke="#333" fill="none" stroke-width="1" />
<text x="480.20" y="45.60" font-size="9.18" text-anchor="middle" fill="#2b2b2b" textLength="18.24" lengthAdjust="spacingAndGlyphs" stroke="#2b2b2b" stroke-width="0.06" >1972</text>
<text x="401.65" y="148.90" font-size="9.41" text-anchor="end" fill="#2b2b2b" textLength="15.41" lengthAdjust="spacingAndGlyphs" stroke="#2b2b2b" stroke-width="0.06" transform="rotate(-45 401.65 148.90)" >TK1</text>
<text x="421.00" y="148.90" font-size="9.41" text-anchor="end" fill="#2b2b2b" textLength="28.47" lengthAdjust="spacingAndGlyphs" stroke="#2b2b2b" stroke-width="0.06" transform="rotate(-45 421.00 148.90)" >CCNA2</text>
<text x="440.40" y="148.90" font-size="9.41" text-anchor="end" fill="#2b2b2b" textLength="22.41" lengthAdjust="spacingAndGlyphs" stroke="#2b2b2b" stroke-width="0.06" transform="rotate(-45 440.40 148.90)" >CDK1</text>
<text x="466.15" y="148.90" font-size="9.41" text-anchor="end" fill="#2b2b2b" textLength="15.41" lengthAdjust="spacingAndGlyphs" stroke="#2b2b2b" stroke-width="0.06" transform="rotate(-45 466.15 148.90)" >TK1</text>
<text x="485.35" y="148.90" font-size="9.41" text-anchor="end" fill="#2b2b2b" textLength="28.47" lengthAdjust="spacingAndGlyphs" stroke="#2b2b2b" stroke-width="0.06" transform="rotate(-45 485.35 148.90)" >CCNA2</text>
<text x="504.75" y="148.90" font-size="9.41" text-anchor="end" fill="#2b2b2b" textLength="22.41" lengthAdjust="spacingAndGlyphs" stroke="#2b2b2b" stroke-width="0.06" transform="rotate(-45 504.75 148.90)" >CDK1</text>
<rect x="402.30" y="174.20" width="5.70" height="5.30" fill="#cf0a2c" />
<text x="411.20" y="179.80" font-size="8.96" text-anchor="start" fill="#2b2b2b" textLength="70.24" lengthAdjust="spacingAndGlyphs" stroke="#2b2b2b" stroke-width="0.06" >0 nM DMSO control</text>
<rect x="402.30" y="186.30" width="5.70" height="5.30" fill="#1a4f8b" />
<text x="411.20" y="191.90" font-size="8.96" text-anchor="start" fill="#2b2b2b" textLength="72.78" lengthAdjust="spacingAndGlyphs" stroke="#2b2b2b" stroke-width="0.06" >500 nM PRT-382 D3</text>
<text x="0" y="0" font-size="12.5" font-weight="bold" fill="#111" transform="translate(6.71 222.70) scale(0.966 1)">C</text>
<line x1="55.50" y1="263.30" x2="55.50" y2="343.50" stroke="#222" stroke-width="1.1" />
<line x1="55.50" y1="343.50" x2="245.20" y2="343.50" stroke="#222" stroke-width="1.1" />
<line x1="52.20" y1="343.50" x2="55.50" y2="343.50" stroke="#222" stroke-width="1" />
<text x="48.80" y="346.80" font-size="9.52" text-anchor="end" fill="#2b2b2b" textLength="11.82" lengthAdjust="spacingAndGlyphs" stroke="#2b2b2b" stroke-width="0.06" >0.0</text>
<line x1="52.20" y1="317.85" x2="55.50" y2="317.85" stroke="#222" stroke-width="1" />
<text x="48.80" y="321.15" font-size="9.52" text-anchor="end" fill="#2b2b2b" textLength="11.82" lengthAdjust="spacingAndGlyphs" stroke="#2b2b2b" stroke-width="0.06" >0.5</text>
<line x1="52.20" y1="292.20" x2="55.50" y2="292.20" stroke="#222" stroke-width="1" />
<text x="48.80" y="295.50" font-size="9.52" text-anchor="end" fill="#2b2b2b" textLength="11.82" lengthAdjust="spacingAndGlyphs" stroke="#2b2b2b" stroke-width="0.06" >1.0</text>
<line x1="52.20" y1="266.55" x2="55.50" y2="266.55" stroke="#222" stroke-width="1" />
<text x="48.80" y="269.85" font-size="9.52" text-anchor="end" fill="#2b2b2b" textLength="11.82" lengthAdjust="spacingAndGlyphs" stroke="#2b2b2b" stroke-width="0.06" >1.5</text>
<text x="30.80" y="303.10" font-size="8.60" text-anchor="middle" fill="#2b2b2b" textLength="73.20" lengthAdjust="spacingAndGlyphs" stroke="#2b2b2b" stroke-width="0.06" transform="rotate(-90 30.80 303.10)" >FC mRNA expression</text>
<rect x="57.30" y="292.20" width="5.10" height="51.30" fill="#8f9dcc" />
<line x1="59.85" y1="284.50" x2="59.85" y2="299.89" stroke="#173a63" stroke-width="0.8" />
<line x1="58.05" y1="284.50" x2="61.65" y2="284.50" stroke="#173a63" stroke-width="0.8" />
<line x1="58.05" y1="299.89" x2="61.65" y2="299.89" stroke="#173a63" stroke-width="0.8" />
<circle cx="59.85" cy="292.20" r="2.3" fill="#173a63" />
<rect x="64.40" y="283.48" width="5.10" height="60.02" fill="#ec8b80" />
<line x1="66.95" y1="279.38" x2="66.95" y2="287.58" stroke="#d85060" stroke-width="0.8" />
<line x1="65.15" y1="279.38" x2="68.75" y2="279.38" stroke="#d85060" stroke-width="0.8" />
<line x1="65.15" y1="287.58" x2="68.75" y2="287.58" stroke="#d85060" stroke-width="0.8" />
<rect x="64.85" y="281.38" width="4.20" height="4.20" fill="#c8102e" />
<rect x="71.30" y="289.63" width="5.10" height="53.87" fill="#abd794" />
<line x1="73.85" y1="284.50" x2="73.85" y2="294.76" stroke="#3c9a3c" stroke-width="0.8" />
<line x1="72.05" y1="284.50" x2="75.65" y2="284.50" stroke="#3c9a3c" stroke-width="0.8" />
<line x1="72.05" y1="294.76" x2="75.65" y2="294.76" stroke="#3c9a3c" stroke-width="0.8" />
<path d="M71.45,291.80 L76.25,291.80 L73.85,287.47 Z" fill="#3c9a3c"/>
<line x1="67.65" y1="343.50" x2="67.65" y2="346.50" stroke="#222" stroke-width="1" />
<rect x="80.10" y="292.20" width="5.10" height="51.30" fill="#8f9dcc" />
<line x1="82.65" y1="287.07" x2="82.65" y2="297.33" stroke="#173a63" stroke-width="0.8" />
<line x1="80.85" y1="287.07" x2="84.45" y2="287.07" stroke="#173a63" stroke-width="0.8" />
<line x1="80.85" y1="297.33" x2="84.45" y2="297.33" stroke="#173a63" stroke-width="0.8" />
<circle cx="82.65" cy="292.20" r="2.3" fill="#173a63" />
<rect x="87.20" y="307.59" width="5.10" height="35.91" fill="#ec8b80" />
<line x1="89.75" y1="298.87" x2="89.75" y2="316.31" stroke="#d85060" stroke-width="0.8" />
<line x1="87.95" y1="298.87" x2="91.55" y2="298.87" stroke="#d85060" stroke-width="0.8" />
<line x1="87.95" y1="316.31" x2="91.55" y2="316.31" stroke="#d85060" stroke-width="0.8" />
<rect x="87.65" y="305.49" width="4.20" height="4.20" fill="#c8102e" />
<rect x="93.90" y="314.26" width="5.10" height="29.24" fill="#abd794" />
<line x1="96.45" y1="306.05" x2="96.45" y2="322.47" stroke="#3c9a3c" stroke-width="0.8" />
<line x1="94.65" y1="306.05" x2="98.25" y2="306.05" stroke="#3c9a3c" stroke-width="0.8" />
<line x1="94.65" y1="322.47" x2="98.25" y2="322.47" stroke="#3c9a3c" stroke-width="0.8" />
<path d="M94.05,316.42 L98.85,316.42 L96.45,312.10 Z" fill="#3c9a3c"/>
<line x1="90.35" y1="343.50" x2="90.35" y2="346.50" stroke="#222" stroke-width="1" />
<rect x="103.10" y="292.20" width="5.10" height="51.30" fill="#8f9dcc" />
<line x1="105.65" y1="282.97" x2="105.65" y2="301.43" stroke="#173a63" stroke-width="0.8" />
<line x1="103.85" y1="282.97" x2="107.45" y2="282.97" stroke="#173a63" stroke-width="0.8" />
<line x1="103.85" y1="301.43" x2="107.45" y2="301.43" stroke="#173a63" stroke-width="0.8" />
<circle cx="105.65" cy="292.20" r="2.3" fill="#173a63" />
<rect x="110.10" y="317.85" width="5.10" height="25.65" fill="#ec8b80" />
<line x1="112.65" y1="307.59" x2="112.65" y2="328.11" stroke="#d85060" stroke-width="0.8" />
<line x1="110.85" y1="307.59" x2="114.45" y2="307.59" stroke="#d85060" stroke-width="0.8" />
<line x1="110.85" y1="328.11" x2="114.45" y2="328.11" stroke="#d85060" stroke-width="0.8" />
<rect x="110.55" y="315.75" width="4.20" height="4.20" fill="#c8102e" />
<rect x="116.90" y="313.75" width="5.10" height="29.75" fill="#abd794" />
<line x1="119.45" y1="308.62" x2="119.45" y2="318.88" stroke="#3c9a3c" stroke-width="0.8" />
<line x1="117.65" y1="308.62" x2="121.25" y2="308.62" stroke="#3c9a3c" stroke-width="0.8" />
<line x1="117.65" y1="318.88" x2="121.25" y2="318.88" stroke="#3c9a3c" stroke-width="0.8" />
<path d="M117.05,315.91 L121.85,315.91 L119.45,311.59 Z" fill="#3c9a3c"/>
<line x1="113.35" y1="343.50" x2="113.35" y2="346.50" stroke="#222" stroke-width="1" />
<rect x="125.80" y="292.20" width="5.10" height="51.30" fill="#8f9dcc" />
<line x1="128.35" y1="288.10" x2="128.35" y2="296.30" stroke="#173a63" stroke-width="0.8" />
<line x1="126.55" y1="288.10" x2="130.15" y2="288.10" stroke="#173a63" stroke-width="0.8" />
<line x1="126.55" y1="296.30" x2="130.15" y2="296.30" stroke="#173a63" stroke-width="0.8" />
<circle cx="128.35" cy="292.20" r="2.3" fill="#173a63" />
<rect x="132.90" y="322.98" width="5.10" height="20.52" fill="#ec8b80" />
<line x1="135.45" y1="314.26" x2="135.45" y2="331.70" stroke="#d85060" stroke-width="0.8" />
<line x1="133.65" y1="314.26" x2="137.25" y2="314.26" stroke="#d85060" stroke-width="0.8" />
<line x1="133.65" y1="331.70" x2="137.25" y2="331.70" stroke="#d85060" stroke-width="0.8" />
<rect x="133.35" y="320.88" width="4.20" height="4.20" fill="#c8102e" />
<rect x="139.60" y="326.06" width="5.10" height="17.44" fill="#abd794" />
<line x1="142.15" y1="319.90" x2="142.15" y2="332.21" stroke="#3c9a3c" stroke-width="0.8" />
<line x1="140.35" y1="319.90" x2="143.95" y2="319.90" stroke="#3c9a3c" stroke-width="0.8" />
<line x1="140.35" y1="332.21" x2="143.95" y2="332.21" stroke="#3c9a3c" stroke-width="0.8" />
<path d="M139.75,328.22 L144.55,328.22 L142.15,323.90 Z" fill="#3c9a3c"/>
<line x1="136.05" y1="343.50" x2="136.05" y2="346.50" stroke="#222" stroke-width="1" />
<rect x="152.30" y="292.20" width="5.10" height="51.30" fill="#8f9dcc" />
<line x1="154.85" y1="288.10" x2="154.85" y2="296.30" stroke="#173a63" stroke-width="0.8" />
<line x1="153.05" y1="288.10" x2="156.65" y2="288.10" stroke="#173a63" stroke-width="0.8" />
<line x1="153.05" y1="296.30" x2="156.65" y2="296.30" stroke="#173a63" stroke-width="0.8" />
<circle cx="154.85" cy="292.20" r="2.3" fill="#173a63" />
<rect x="159.70" y="301.95" width="5.10" height="41.55" fill="#ec8b80" />
<line x1="162.25" y1="299.38" x2="162.25" y2="304.51" stroke="#d85060" stroke-width="0.8" />
<line x1="160.45" y1="299.38" x2="164.05" y2="299.38" stroke="#d85060" stroke-width="0.8" />
<line x1="160.45" y1="304.51" x2="164.05" y2="304.51" stroke="#d85060" stroke-width="0.8" />
<rect x="160.15" y="299.85" width="4.20" height="4.20" fill="#c8102e" />
<rect x="166.70" y="306.56" width="5.10" height="36.94" fill="#abd794" />
<line x1="169.25" y1="302.46" x2="169.25" y2="310.67" stroke="#3c9a3c" stroke-width="0.8" />
<line x1="167.45" y1="302.46" x2="171.05" y2="302.46" stroke="#3c9a3c" stroke-width="0.8" />
<line x1="167.45" y1="310.67" x2="171.05" y2="310.67" stroke="#3c9a3c" stroke-width="0.8" />
<path d="M166.85,308.72 L171.65,308.72 L169.25,304.40 Z" fill="#3c9a3c"/>
<line x1="162.85" y1="343.50" x2="162.85" y2="346.50" stroke="#222" stroke-width="1" />
<rect x="175.60" y="292.20" width="5.10" height="51.30" fill="#8f9dcc" />
<line x1="178.15" y1="288.61" x2="178.15" y2="295.79" stroke="#173a63" stroke-width="0.8" />
<line x1="176.35" y1="288.61" x2="179.95" y2="288.61" stroke="#173a63" stroke-width="0.8" />
<line x1="176.35" y1="295.79" x2="179.95" y2="295.79" stroke="#173a63" stroke-width="0.8" />
<circle cx="178.15" cy="292.20" r="2.3" fill="#173a63" />
<rect x="182.60" y="310.67" width="5.10" height="32.83" fill="#ec8b80" />
<line x1="185.15" y1="308.10" x2="185.15" y2="313.23" stroke="#d85060" stroke-width="0.8" />
<line x1="183.35" y1="308.10" x2="186.95" y2="308.10" stroke="#d85060" stroke-width="0.8" />
<line x1="183.35" y1="313.23" x2="186.95" y2="313.23" stroke="#d85060" stroke-width="0.8" />
<rect x="183.05" y="308.57" width="4.20" height="4.20" fill="#c8102e" />
<rect x="189.30" y="322.98" width="5.10" height="20.52" fill="#abd794" />
<line x1="191.85" y1="318.88" x2="191.85" y2="327.08" stroke="#3c9a3c" stroke-width="0.8" />
<line x1="190.05" y1="318.88" x2="193.65" y2="318.88" stroke="#3c9a3c" stroke-width="0.8" />
<line x1="190.05" y1="327.08" x2="193.65" y2="327.08" stroke="#3c9a3c" stroke-width="0.8" />
<path d="M189.45,325.14 L194.25,325.14 L191.85,320.82 Z" fill="#3c9a3c"/>
<line x1="185.80" y1="343.50" x2="185.80" y2="346.50" stroke="#222" stroke-width="1" />
<rect x="198.00" y="292.20" width="5.10" height="51.30" fill="#8f9dcc" />
<line x1="200.55" y1="287.07" x2="200.55" y2="297.33" stroke="#173a63" stroke-width="0.8" />
<line x1="198.75" y1="287.07" x2="202.35" y2="287.07" stroke="#173a63" stroke-width="0.8" />
<line x1="198.75" y1="297.33" x2="202.35" y2="297.33" stroke="#173a63" stroke-width="0.8" />
<circle cx="200.55" cy="292.20" r="2.3" fill="#173a63" />
<rect x="205.10" y="299.89" width="5.10" height="43.60" fill="#ec8b80" />
<line x1="207.65" y1="295.79" x2="207.65" y2="304.00" stroke="#d85060" stroke-width="0.8" />
<line x1="205.85" y1="295.79" x2="209.45" y2="295.79" stroke="#d85060" stroke-width="0.8" />
<line x1="205.85" y1="304.00" x2="209.45" y2="304.00" stroke="#d85060" stroke-width="0.8" />
<rect x="205.55" y="297.79" width="4.20" height="4.20" fill="#c8102e" />
<rect x="212.20" y="305.54" width="5.10" height="37.96" fill="#abd794" />
<line x1="214.75" y1="301.95" x2="214.75" y2="309.13" stroke="#3c9a3c" stroke-width="0.8" />
<line x1="212.95" y1="301.95" x2="216.55" y2="301.95" stroke="#3c9a3c" stroke-width="0.8" />
<line x1="212.95" y1="309.13" x2="216.55" y2="309.13" stroke="#3c9a3c" stroke-width="0.8" />
<path d="M212.35,307.70 L217.15,307.70 L214.75,303.38 Z" fill="#3c9a3c"/>
<line x1="208.45" y1="343.50" x2="208.45" y2="346.50" stroke="#222" stroke-width="1" />
<rect x="220.80" y="292.20" width="5.10" height="51.30" fill="#8f9dcc" />
<line x1="223.35" y1="288.10" x2="223.35" y2="296.30" stroke="#173a63" stroke-width="0.8" />
<line x1="221.55" y1="288.10" x2="225.15" y2="288.10" stroke="#173a63" stroke-width="0.8" />
<line x1="221.55" y1="296.30" x2="225.15" y2="296.30" stroke="#173a63" stroke-width="0.8" />
<circle cx="223.35" cy="292.20" r="2.3" fill="#173a63" />
<rect x="227.90" y="299.89" width="5.10" height="43.60" fill="#ec8b80" />
<line x1="230.45" y1="295.28" x2="230.45" y2="304.51" stroke="#d85060" stroke-width="0.8" />
<line x1="228.65" y1="295.28" x2="232.25" y2="295.28" stroke="#d85060" stroke-width="0.8" />
<line x1="228.65" y1="304.51" x2="232.25" y2="304.51" stroke="#d85060" stroke-width="0.8" />
<rect x="228.35" y="297.79" width="4.20" height="4.20" fill="#c8102e" />
<rect x="234.90" y="318.36" width="5.10" height="25.14" fill="#abd794" />
<line x1="237.45" y1="314.26" x2="237.45" y2="322.47" stroke="#3c9a3c" stroke-width="0.8" />
<line x1="235.65" y1="314.26" x2="239.25" y2="314.26" stroke="#3c9a3c" stroke-width="0.8" />
<line x1="235.65" y1="322.47" x2="239.25" y2="322.47" stroke="#3c9a3c" stroke-width="0.8" />
<path d="M235.05,320.52 L239.85,320.52 L237.45,316.20 Z" fill="#3c9a3c"/>
<line x1="231.20" y1="343.50" x2="231.20" y2="346.50" stroke="#222" stroke-width="1" />
<line x1="149.90" y1="343.50" x2="149.90" y2="346.50" stroke="#222" stroke-width="1" />
<path d="M82.65,284.57 L82.65,270.30 L96.45,270.30 L96.45,303.55" stroke="#444" fill="none" stroke-width="0.9" />
<text x="89.55" y="270.40" font-size="8.96" text-anchor="middle" fill="#3a3a3a" font-weight="bold" >*</text>
<path d="M105.65,280.47 L105.65,270.30 L112.65,270.30 L112.65,305.09" stroke="#444" fill="none" stroke-width="0.9" />
<text x="109.15" y="270.40" font-size="8.96" text-anchor="middle" fill="#3a3a3a" font-weight="bold" textLength="6.23" lengthAdjust="spacingAndGlyphs" >**</text>
<path d="M105.65,262.50 L105.65,257.00 L119.45,257.00 L119.45,306.12" stroke="#444" fill="none" stroke-width="0.9" />
<text x="112.55" y="257.10" font-size="8.96" text-anchor="middle" fill="#3a3a3a" font-weight="bold" >*</text>
<path d="M128.35,285.60 L128.35,270.30 L135.45,270.30 L135.45,311.76" stroke="#444" fill="none" stroke-width="0.9" />
<text x="131.90" y="270.40" font-size="8.96" text-anchor="middle" fill="#3a3a3a" font-weight="bold" textLength="6.23" lengthAdjust="spacingAndGlyphs" >**</text>
<path d="M128.35,262.50 L128.35,257.00 L142.15,257.00 L142.15,317.40" stroke="#444" fill="none" stroke-width="0.9" />
<text x="135.25" y="257.10" font-size="8.96" text-anchor="middle" fill="#3a3a3a" font-weight="bold" textLength="9.34" lengthAdjust="spacingAndGlyphs" >***</text>
<path d="M178.15,286.11 L178.15,270.30 L185.15,270.30 L185.15,305.60" stroke="#444" fill="none" stroke-width="0.9" />
<text x="181.65" y="270.40" font-size="8.96" text-anchor="middle" fill="#3a3a3a" font-weight="bold" >*</text>
<path d="M178.15,262.50 L178.15,257.00 L191.85,257.00 L191.85,316.38" stroke="#444" fill="none" stroke-width="0.9" />
<text x="185.00" y="257.10" font-size="8.96" text-anchor="middle" fill="#3a3a3a" font-weight="bold" textLength="6.23" lengthAdjust="spacingAndGlyphs" >**</text>
<path d="M223.35,285.60 L223.35,270.30 L237.45,270.30 L237.45,311.76" stroke="#444" fill="none" stroke-width="0.9" />
<text x="230.40" y="270.40" font-size="8.96" text-anchor="middle" fill="#3a3a3a" font-weight="bold" textLength="6.23" lengthAdjust="spacingAndGlyphs" >**</text>
<path d="M59.3,249.2 L59.3,241.8 L139,241.8 L139,249.2" stroke="#333" fill="none" stroke-width="1" />
<text x="99.20" y="236.80" font-size="11.42" text-anchor="middle" fill="#2b2b2b" textLength="26.65" lengthAdjust="spacingAndGlyphs" stroke="#2b2b2b" stroke-width="0.06" >Z-138</text>
<path d="M148.5,248.2 L148.5,240.3 L235.3,240.3 L235.3,248.2" stroke="#333" fill="none" stroke-width="1" />
<text x="192.40" y="235.50" font-size="11.42" text-anchor="middle" fill="#2b2b2b" textLength="51.60" lengthAdjust="spacingAndGlyphs" stroke="#2b2b2b" stroke-width="0.06" >Granta-519</text>
<text x="70.65" y="354.30" font-size="9.41" text-anchor="end" fill="#2b2b2b" textLength="20.08" lengthAdjust="spacingAndGlyphs" stroke="#2b2b2b" stroke-width="0.06" transform="rotate(-45 70.65 354.30)" >E2F1</text>
<text x="93.35" y="354.30" font-size="9.41" text-anchor="end" fill="#2b2b2b" textLength="15.41" lengthAdjust="spacingAndGlyphs" stroke="#2b2b2b" stroke-width="0.06" transform="rotate(-45 93.35 354.30)" >TK1</text>
<text x="116.35" y="354.30" font-size="9.41" text-anchor="end" fill="#2b2b2b" textLength="22.41" lengthAdjust="spacingAndGlyphs" stroke="#2b2b2b" stroke-width="0.06" transform="rotate(-45 116.35 354.30)" >CDK1</text>
<text x="139.05" y="354.30" font-size="9.41" text-anchor="end" fill="#2b2b2b" textLength="28.47" lengthAdjust="spacingAndGlyphs" stroke="#2b2b2b" stroke-width="0.06" transform="rotate(-45 139.05 354.30)" >CCNA2</text>
<text x="165.85" y="354.30" font-size="9.41" text-anchor="end" fill="#2b2b2b" textLength="20.08" lengthAdjust="spacingAndGlyphs" stroke="#2b2b2b" stroke-width="0.06" transform="rotate(-45 165.85 354.30)" >E2F1</text>
<text x="188.80" y="354.30" font-size="9.41" text-anchor="end" fill="#2b2b2b" textLength="15.41" lengthAdjust="spacingAndGlyphs" stroke="#2b2b2b" stroke-width="0.06" transform="rotate(-45 188.80 354.30)" >TK1</text>
<text x="211.45" y="354.30" font-size="9.41" text-anchor="end" fill="#2b2b2b" textLength="22.41" lengthAdjust="spacingAndGlyphs" stroke="#2b2b2b" stroke-width="0.06" transform="rotate(-45 211.45 354.30)" >CDK1</text>
<text x="234.20" y="354.30" font-size="9.41" text-anchor="end" fill="#2b2b2b" textLength="28.47" lengthAdjust="spacingAndGlyphs" stroke="#2b2b2b" stroke-width="0.06" transform="rotate(-45 234.20 354.30)" >CCNA2</text>
<text x="251.60" y="251.80" font-size="9.30" text-anchor="start" fill="#2b2b2b" textLength="21.68" lengthAdjust="spacingAndGlyphs" stroke="#2b2b2b" stroke-width="0.06" >Z-138</text>
<circle cx="254.80" cy="258.90" r="2.1" fill="#173a63" />
<text x="259.80" y="261.30" font-size="9.30" text-anchor="start" fill="#2b2b2b" stroke="#2b2b2b" stroke-width="0.06" >0</text>
<rect x="252.90" y="268.70" width="3.80" height="3.80" fill="#c8102e" />
<text x="259.80" y="273.20" font-size="9.30" text-anchor="start" fill="#2b2b2b" textLength="13.85" lengthAdjust="spacingAndGlyphs" stroke="#2b2b2b" stroke-width="0.06" >150</text>
<path d="M252.70,285.39 L256.90,285.39 L254.80,281.61 Z" fill="#3c9a3c"/>
<text x="259.80" y="286.00" font-size="9.30" text-anchor="start" fill="#2b2b2b" textLength="18.46" lengthAdjust="spacingAndGlyphs" stroke="#2b2b2b" stroke-width="0.06" >1000</text>
<text x="248.70" y="302.70" font-size="9.30" text-anchor="start" fill="#2b2b2b" textLength="41.99" lengthAdjust="spacingAndGlyphs" stroke="#2b2b2b" stroke-width="0.06" >Granta-519</text>
<circle cx="254.80" cy="309.60" r="2.1" fill="#173a63" />
<text x="259.80" y="311.90" font-size="9.30" text-anchor="start" fill="#2b2b2b" stroke="#2b2b2b" stroke-width="0.06" >0</text>
<rect x="252.90" y="319.00" width="3.80" height="3.80" fill="#c8102e" />
<text x="259.80" y="323.40" font-size="9.30" text-anchor="start" fill="#2b2b2b" textLength="9.23" lengthAdjust="spacingAndGlyphs" stroke="#2b2b2b" stroke-width="0.06" >50</text>
<path d="M252.70,335.69 L256.90,335.69 L254.80,331.91 Z" fill="#3c9a3c"/>
<text x="259.80" y="336.30" font-size="9.30" text-anchor="start" fill="#2b2b2b" textLength="13.85" lengthAdjust="spacingAndGlyphs" stroke="#2b2b2b" stroke-width="0.06" >500</text>
<text x="0" y="0" font-size="12.5" font-weight="bold" fill="#111" transform="translate(320.37 222.50) scale(1.109 1)">D</text>
<text x="380.40" y="220.60" font-size="11.20" text-anchor="middle" fill="#2b2b2b" textLength="22.25" lengthAdjust="spacingAndGlyphs" stroke="#2b2b2b" stroke-width="0.06" >1972</text>
<text x="438.00" y="220.40" font-size="11.20" text-anchor="middle" fill="#2b2b2b" textLength="26.12" lengthAdjust="spacingAndGlyphs" stroke="#2b2b2b" stroke-width="0.06" >Z-138</text>
<text x="365.00" y="243.00" font-size="9.41" text-anchor="start" fill="#2b2b2b" stroke="#2b2b2b" stroke-width="0.06" transform="rotate(-90 365.00 243.00)" >0</text>
<text x="382.40" y="243.00" font-size="9.41" text-anchor="start" fill="#2b2b2b" textLength="14.02" lengthAdjust="spacingAndGlyphs" stroke="#2b2b2b" stroke-width="0.06" transform="rotate(-90 382.40 243.00)" >300</text>
<text x="399.70" y="243.00" font-size="9.41" text-anchor="start" fill="#2b2b2b" textLength="14.02" lengthAdjust="spacingAndGlyphs" stroke="#2b2b2b" stroke-width="0.06" transform="rotate(-90 399.70 243.00)" >500</text>
<text x="425.00" y="243.00" font-size="9.41" text-anchor="start" fill="#2b2b2b" stroke="#2b2b2b" stroke-width="0.06" transform="rotate(-90 425.00 243.00)" >0</text>
<text x="441.00" y="243.00" font-size="9.41" text-anchor="start" fill="#2b2b2b" textLength="9.34" lengthAdjust="spacingAndGlyphs" stroke="#2b2b2b" stroke-width="0.06" transform="rotate(-90 441.00 243.00)" >30</text>
<text x="458.40" y="243.00" font-size="9.41" text-anchor="start" fill="#2b2b2b" textLength="14.02" lengthAdjust="spacingAndGlyphs" stroke="#2b2b2b" stroke-width="0.06" transform="rotate(-90 458.40 243.00)" >130</text>
<text x="467.00" y="232.30" font-size="9.30" text-anchor="start" fill="#2b2b2b" textLength="32.61" lengthAdjust="spacingAndGlyphs" stroke="#2b2b2b" stroke-width="0.06" >PRT-382</text>
<text x="467.00" y="242.70" font-size="9.30" text-anchor="start" fill="#2b2b2b" textLength="17.06" lengthAdjust="spacingAndGlyphs" stroke="#2b2b2b" stroke-width="0.06" >(nM)</text>
<rect x="351.20" y="246.70" width="53.80" height="13.60" fill="#eaeaea" />
<rect x="410.20" y="246.70" width="53.10" height="13.60" fill="#eaeaea" />
<rect x="351.20" y="263.20" width="53.80" height="14.20" fill="#eaeaea" />
<rect x="410.20" y="263.20" width="53.10" height="14.20" fill="#eaeaea" />
<rect x="351.20" y="280.00" width="53.80" height="14.20" fill="#eaeaea" />
<rect x="410.20" y="280.00" width="53.10" height="14.20" fill="#eaeaea" />
<rect x="351.20" y="296.80" width="53.80" height="14.10" fill="#eaeaea" />
<rect x="410.20" y="296.80" width="53.10" height="14.10" fill="#eaeaea" />
<rect x="351.20" y="319.50" width="53.80" height="14.30" fill="#eaeaea" />
<rect x="410.20" y="319.50" width="53.10" height="14.30" fill="#eaeaea" />
<rect x="351.20" y="336.80" width="53.80" height="13.80" fill="#eaeaea" />
<rect x="410.20" y="336.80" width="53.10" height="13.80" fill="#eaeaea" />
<rect x="351.20" y="353.80" width="53.80" height="14.00" fill="#eaeaea" />
<rect x="410.20" y="353.80" width="53.10" height="14.00" fill="#eaeaea" />
<rect x="356.00" y="252.75" width="12.20" height="3.30" rx="1.65" fill="#0f0f0f" opacity="1.0" filter="url(#bl1)"/>
<rect x="371.80" y="251.95" width="12.20" height="3.30" rx="1.65" fill="#555555" opacity="1.0" filter="url(#bl1)"/>
<rect x="388.80" y="251.15" width="11.80" height="3.30" rx="1.65" fill="#191919" opacity="1.0" filter="url(#bl1)"/>
<rect x="413.20" y="252.15" width="13.20" height="3.30" rx="1.65" fill="#0f0f0f" opacity="1.0" filter="url(#bl1)"/>
<rect x="430.80" y="252.15" width="12.80" height="3.30" rx="1.65" fill="#0f0f0f" opacity="1.0" filter="url(#bl1)"/>
<rect x="448.20" y="252.15" width="13.00" height="3.30" rx="1.65" fill="#050505" opacity="1.0" filter="url(#bl1)"/>
<rect x="355.00" y="268.50" width="14.20" height="5.20" rx="2.00" fill="#828282" opacity="1.0" filter="url(#bl2)"/>
<rect x="370.80" y="268.50" width="14.20" height="5.20" rx="2.00" fill="#737373" opacity="1.0" filter="url(#bl2)"/>
<rect x="387.80" y="268.50" width="13.80" height="5.20" rx="2.00" fill="#696969" opacity="1.0" filter="url(#bl2)"/>
<rect x="413.20" y="270.35" width="13.20" height="2.70" rx="1.35" fill="#3c3c3c" opacity="1.0" filter="url(#bl1)"/>
<rect x="430.80" y="270.35" width="12.80" height="2.70" rx="1.35" fill="#373737" opacity="1.0" filter="url(#bl1)"/>
<rect x="448.20" y="270.35" width="13.00" height="2.70" rx="1.35" fill="#0f0f0f" opacity="1.0" filter="url(#bl1)"/>
<rect x="356.00" y="285.65" width="12.20" height="3.30" rx="1.65" fill="#1e1e1e" opacity="1.0" filter="url(#bl1)"/>
<rect x="371.80" y="284.25" width="12.20" height="3.70" rx="1.85" fill="#191919" opacity="1.0" filter="url(#bl1)"/>
<rect x="388.80" y="284.45" width="11.80" height="2.30" rx="1.15" fill="#969696" opacity="1.0" filter="url(#bl1)"/>
<rect x="410.20" y="280.00" width="53.10" height="14.20" fill="#dcdcdc" />
<rect x="410.40" y="281.15" width="17.00" height="11.70" rx="2.00" fill="#afafaf" opacity="1.0" filter="url(#bl2)"/>
<rect x="410.60" y="281.35" width="16.60" height="3.30" rx="1.65" fill="#0a0a0a" opacity="1.0" filter="url(#bl1)"/>
<rect x="410.60" y="280.05" width="16.60" height="1.30" rx="0.65" fill="#3c3c3c" opacity="1.0" filter="url(#bl1)"/>
<rect x="410.60" y="287.75" width="16.60" height="2.10" rx="1.05" fill="#5f5f5f" opacity="1.0" filter="url(#bl1)"/>
<rect x="430.40" y="282.15" width="13.60" height="10.70" rx="2.00" fill="#c8c8c8" opacity="1.0" filter="url(#bl2)"/>
<rect x="430.80" y="281.65" width="12.80" height="2.70" rx="1.35" fill="#555555" opacity="1.0" filter="url(#bl1)"/>
<rect x="447.50" y="280.65" width="14.50" height="12.70" rx="2.00" fill="#d4d4d4" opacity="1.0" filter="url(#bl2)"/>
<rect x="354.60" y="301.65" width="14.00" height="4.30" rx="2.00" fill="#0f0f0f" opacity="1.0" filter="url(#bl1)"/>
<rect x="370.40" y="301.65" width="14.00" height="4.30" rx="2.00" fill="#0f0f0f" opacity="1.0" filter="url(#bl1)"/>
<rect x="387.40" y="301.65" width="13.60" height="4.30" rx="2.00" fill="#0f0f0f" opacity="1.0" filter="url(#bl1)"/>
<rect x="413.20" y="301.75" width="13.20" height="3.30" rx="1.65" fill="#232323" opacity="1.0" filter="url(#bl1)"/>
<rect x="430.80" y="301.75" width="12.80" height="3.30" rx="1.65" fill="#1e1e1e" opacity="1.0" filter="url(#bl1)"/>
<rect x="448.20" y="301.75" width="13.00" height="3.30" rx="1.65" fill="#191919" opacity="1.0" filter="url(#bl1)"/>
<rect x="356.00" y="325.05" width="12.20" height="3.70" rx="1.85" fill="#464646" opacity="1.0" filter="url(#bl1)"/>
<rect x="371.80" y="325.05" width="12.20" height="3.70" rx="1.85" fill="#3c3c3c" opacity="1.0" filter="url(#bl1)"/>
<rect x="388.80" y="325.05" width="11.80" height="3.70" rx="1.85" fill="#5f5f5f" opacity="1.0" filter="url(#bl1)"/>
<rect x="413.20" y="324.65" width="13.20" height="4.90" rx="2.00" fill="#050505" opacity="1.0" filter="url(#bl1)"/>
<rect x="430.80" y="324.65" width="12.80" height="4.90" rx="2.00" fill="#0f0f0f" opacity="1.0" filter="url(#bl1)"/>
<rect x="448.20" y="324.65" width="13.00" height="4.90" rx="2.00" fill="#0f0f0f" opacity="1.0" filter="url(#bl1)"/>
<rect x="356.00" y="342.95" width="12.20" height="3.70" rx="1.85" fill="#d7d7d7" opacity="1.0" filter="url(#bl2)"/>
<rect x="373.40" y="342.45" width="11.60" height="4.70" rx="2.00" fill="#969696" opacity="1.0" filter="url(#bl2)"/>
<rect x="390.00" y="341.65" width="11.60" height="4.70" rx="2.00" fill="#4b4b4b" opacity="1.0" filter="url(#bl2)"/>
<rect x="390.00" y="347.65" width="11.60" height="2.70" rx="1.35" fill="#a0a0a0" opacity="1.0" filter="url(#bl2)"/>
<rect x="413.20" y="339.85" width="13.20" height="4.50" rx="2.00" fill="#a0a0a0" opacity="1.0" filter="url(#bl2)"/>
<rect x="430.80" y="339.85" width="12.80" height="4.50" rx="2.00" fill="#4b4b4b" opacity="1.0" filter="url(#bl2)"/>
<rect x="448.20" y="339.85" width="13.00" height="4.50" rx="2.00" fill="#555555" opacity="1.0" filter="url(#bl2)"/>
<rect x="353.50" y="358.85" width="15.50" height="3.50" rx="1.75" fill="#232323" opacity="1.0" filter="url(#bl1)"/>
<rect x="373.00" y="358.85" width="11.50" height="3.50" rx="1.75" fill="#2d2d2d" opacity="1.0" filter="url(#bl1)"/>
<rect x="389.50" y="358.85" width="11.50" height="3.50" rx="1.75" fill="#a5a5a5" opacity="1.0" filter="url(#bl1)"/>
<rect x="413.20" y="357.35" width="13.20" height="4.90" rx="2.00" fill="#0f0f0f" opacity="1.0" filter="url(#bl2)"/>
<rect x="430.80" y="357.35" width="12.80" height="4.90" rx="2.00" fill="#6e6e6e" opacity="1.0" filter="url(#bl2)"/>
<rect x="448.20" y="357.35" width="13.00" height="4.90" rx="2.00" fill="#8c8c8c" opacity="1.0" filter="url(#bl2)"/>
<text x="467.00" y="259.00" font-size="9.63" text-anchor="start" fill="#2b2b2b" textLength="20.56" lengthAdjust="spacingAndGlyphs" stroke="#2b2b2b" stroke-width="0.06" >E2F1</text>
<text x="467.00" y="274.00" font-size="9.63" text-anchor="start" fill="#2b2b2b" textLength="11.95" lengthAdjust="spacingAndGlyphs" stroke="#2b2b2b" stroke-width="0.06" >RB</text>
<text x="467.00" y="290.30" font-size="9.63" text-anchor="start" fill="#2b2b2b" textLength="24.85" lengthAdjust="spacingAndGlyphs" stroke="#2b2b2b" stroke-width="0.06" >SDMA</text>
<text x="467.00" y="305.20" font-size="9.63" text-anchor="start" fill="#2b2b2b" textLength="25.98" lengthAdjust="spacingAndGlyphs" stroke="#2b2b2b" stroke-width="0.06" >β-actin</text>
<text x="467.00" y="330.20" font-size="9.63" text-anchor="start" fill="#2b2b2b" textLength="20.56" lengthAdjust="spacingAndGlyphs" stroke="#2b2b2b" stroke-width="0.06" >E2F1</text>
<text x="467.00" y="345.20" font-size="9.63" text-anchor="start" fill="#2b2b2b" textLength="11.95" lengthAdjust="spacingAndGlyphs" stroke="#2b2b2b" stroke-width="0.06" >RB</text>
<text x="467.00" y="360.80" font-size="9.63" text-anchor="start" fill="#2b2b2b" textLength="24.85" lengthAdjust="spacingAndGlyphs" stroke="#2b2b2b" stroke-width="0.06" >SDMA</text>
<text x="467.00" y="377.30" font-size="9.30" text-anchor="start" fill="#2b2b2b" textLength="19.38" lengthAdjust="spacingAndGlyphs" stroke="#2b2b2b" stroke-width="0.06" >Ratio</text>
<text x="467.00" y="387.70" font-size="9.30" text-anchor="start" fill="#2b2b2b" textLength="46.13" lengthAdjust="spacingAndGlyphs" stroke="#2b2b2b" stroke-width="0.06" >SDMA:E2F1</text>
<line x1="344.40" y1="251.50" x2="344.40" y2="312.00" stroke="#222" stroke-width="1" />
<text x="341.20" y="282.40" font-size="9.30" text-anchor="middle" fill="#2b2b2b" textLength="41.51" lengthAdjust="spacingAndGlyphs" stroke="#2b2b2b" stroke-width="0.06" transform="rotate(-90 341.20 282.40)" >WB (in put)</text>
<line x1="344.40" y1="323.00" x2="344.40" y2="367.00" stroke="#222" stroke-width="1" />
<text x="341.00" y="345.50" font-size="9.30" text-anchor="middle" fill="#2b2b2b" textLength="35.37" lengthAdjust="spacingAndGlyphs" stroke="#2b2b2b" stroke-width="0.06" transform="rotate(-90 341.00 345.50)" >IP (E2F1)</text>
<text x="365.30" y="382.60" font-size="9.41" text-anchor="start" fill="#2b2b2b" textLength="11.68" lengthAdjust="spacingAndGlyphs" stroke="#2b2b2b" stroke-width="0.06" transform="rotate(-90 365.30 382.60)" >1.0</text>
<text x="382.60" y="382.60" font-size="9.41" text-anchor="start" fill="#2b2b2b" textLength="11.68" lengthAdjust="spacingAndGlyphs" stroke="#2b2b2b" stroke-width="0.06" transform="rotate(-90 382.60 382.60)" >0.9</text>
<text x="400.00" y="382.60" font-size="9.41" text-anchor="start" fill="#2b2b2b" textLength="11.68" lengthAdjust="spacingAndGlyphs" stroke="#2b2b2b" stroke-width="0.06" transform="rotate(-90 400.00 382.60)" >0.5</text>
<text x="421.50" y="382.60" font-size="9.41" text-anchor="start" fill="#2b2b2b" textLength="11.68" lengthAdjust="spacingAndGlyphs" stroke="#2b2b2b" stroke-width="0.06" transform="rotate(-90 421.50 382.60)" >1.0</text>
<text x="438.80" y="382.60" font-size="9.41" text-anchor="start" fill="#2b2b2b" textLength="11.68" lengthAdjust="spacingAndGlyphs" stroke="#2b2b2b" stroke-width="0.06" transform="rotate(-90 438.80 382.60)" >0.7</text>
<text x="456.00" y="382.60" font-size="9.41" text-anchor="start" fill="#2b2b2b" textLength="11.68" lengthAdjust="spacingAndGlyphs" stroke="#2b2b2b" stroke-width="0.06" transform="rotate(-90 456.00 382.60)" >0.7</text>
<text x="0" y="0" font-size="12.5" font-weight="bold" fill="#111" transform="translate(7.12 409.80) scale(0.927 1)">E</text>
<text x="44.20" y="424.30" font-size="11.20" text-anchor="middle" fill="#2b2b2b" textLength="26.12" lengthAdjust="spacingAndGlyphs" stroke="#2b2b2b" stroke-width="0.06" >Z-138</text>
<text x="93.50" y="424.30" font-size="11.20" text-anchor="middle" fill="#2b2b2b" textLength="50.59" lengthAdjust="spacingAndGlyphs" stroke="#2b2b2b" stroke-width="0.06" >Granta-519</text>
<text x="30.30" y="450.40" font-size="9.41" text-anchor="start" fill="#2b2b2b" stroke="#2b2b2b" stroke-width="0.06" transform="rotate(-90 30.30 450.40)" >0</text>
<text x="41.60" y="450.40" font-size="9.41" text-anchor="start" fill="#2b2b2b" textLength="14.02" lengthAdjust="spacingAndGlyphs" stroke="#2b2b2b" stroke-width="0.06" transform="rotate(-90 41.60 450.40)" >150</text>
<text x="53.80" y="450.40" font-size="9.41" text-anchor="start" fill="#2b2b2b" textLength="18.69" lengthAdjust="spacingAndGlyphs" stroke="#2b2b2b" stroke-width="0.06" transform="rotate(-90 53.80 450.40)" >1000</text>
<text x="87.30" y="450.40" font-size="9.41" text-anchor="start" fill="#2b2b2b" stroke="#2b2b2b" stroke-width="0.06" transform="rotate(-90 87.30 450.40)" >0</text>
<text x="98.90" y="450.40" font-size="9.41" text-anchor="start" fill="#2b2b2b" textLength="9.34" lengthAdjust="spacingAndGlyphs" stroke="#2b2b2b" stroke-width="0.06" transform="rotate(-90 98.90 450.40)" >50</text>
<text x="110.40" y="450.40" font-size="9.41" text-anchor="start" fill="#2b2b2b" textLength="14.02" lengthAdjust="spacingAndGlyphs" stroke="#2b2b2b" stroke-width="0.06" transform="rotate(-90 110.40 450.40)" >500</text>
<text x="123.40" y="428.80" font-size="9.30" text-anchor="start" fill="#2b2b2b" textLength="32.61" lengthAdjust="spacingAndGlyphs" stroke="#2b2b2b" stroke-width="0.06" >PRT-382</text>
<text x="123.40" y="438.70" font-size="9.30" text-anchor="start" fill="#2b2b2b" textLength="29.98" lengthAdjust="spacingAndGlyphs" stroke="#2b2b2b" stroke-width="0.06" >(nM) D6</text>
<rect x="17.90" y="454.40" width="101.90" height="18.10" fill="#e4e4e4" />
<rect x="17.90" y="474.80" width="101.90" height="11.00" fill="#e4e4e4" />
<rect x="17.90" y="488.00" width="101.90" height="15.70" fill="#e4e4e4" />
<rect x="17.90" y="505.80" width="101.90" height="12.70" fill="#e4e4e4" />
<rect x="17.90" y="520.80" width="101.90" height="11.50" fill="#e4e4e4" />
<rect x="17.90" y="534.00" width="101.90" height="12.70" fill="#e4e4e4" />
<rect x="20.50" y="455.50" width="9.30" height="5.00" rx="2.00" fill="#969696" opacity="1.0" filter="url(#bl2)"/>
<rect x="20.50" y="455.60" width="9.30" height="2.00" rx="1.00" fill="#373737" opacity="1.0" filter="url(#bl0)"/>
<rect x="20.50" y="458.70" width="9.30" height="1.80" rx="0.90" fill="#5a5a5a" opacity="1.0" filter="url(#bl0)"/>
<rect x="33.80" y="455.30" width="10.80" height="6.00" rx="2.00" fill="#5a5a5a" opacity="1.0" filter="url(#bl2)"/>
<rect x="33.80" y="455.00" width="10.80" height="2.00" rx="1.00" fill="#191919" opacity="1.0" filter="url(#bl0)"/>
<rect x="33.80" y="458.50" width="10.80" height="2.60" rx="1.30" fill="#0f0f0f" opacity="1.0" filter="url(#bl0)"/>
<rect x="48.80" y="455.20" width="10.00" height="1.60" rx="0.80" fill="#8c8c8c" opacity="1.0" filter="url(#bl0)"/>
<rect x="48.80" y="457.40" width="10.00" height="2.20" rx="1.10" fill="#1e1e1e" opacity="1.0" filter="url(#bl0)"/>
<rect x="77.20" y="456.70" width="11.00" height="4.00" rx="2.00" fill="#a0a0a0" opacity="1.0" filter="url(#bl2)"/>
<rect x="77.20" y="458.70" width="11.00" height="1.80" rx="0.90" fill="#6e6e6e" opacity="1.0" filter="url(#bl0)"/>
<rect x="91.80" y="456.70" width="11.00" height="4.00" rx="2.00" fill="#8c8c8c" opacity="1.0" filter="url(#bl2)"/>
<rect x="91.80" y="458.10" width="11.00" height="1.80" rx="0.90" fill="#5a5a5a" opacity="1.0" filter="url(#bl0)"/>
<rect x="106.00" y="456.80" width="11.20" height="1.60" rx="0.80" fill="#828282" opacity="1.0" filter="url(#bl0)"/>
<rect x="20.30" y="467.20" width="10.50" height="2.60" rx="1.30" fill="#191919" opacity="1.0" filter="url(#bl0)"/>
<rect x="33.80" y="467.20" width="10.80" height="2.60" rx="1.30" fill="#1e1e1e" opacity="1.0" filter="url(#bl0)"/>
<rect x="48.60" y="467.20" width="10.40" height="2.60" rx="1.30" fill="#969696" opacity="1.0" filter="url(#bl0)"/>
<rect x="77.20" y="466.70" width="11.00" height="2.40" rx="1.20" fill="#8c8c8c" opacity="1.0" filter="url(#bl0)"/>
<rect x="91.80" y="466.70" width="11.00" height="2.40" rx="1.20" fill="#a0a0a0" opacity="1.0" filter="url(#bl0)"/>
<rect x="20.30" y="479.50" width="10.50" height="2.60" rx="1.30" fill="#191919" opacity="1.0" filter="url(#bl0)"/>
<rect x="33.80" y="479.50" width="10.80" height="2.60" rx="1.30" fill="#2d2d2d" opacity="1.0" filter="url(#bl0)"/>
<rect x="48.60" y="479.50" width="10.40" height="2.60" rx="1.30" fill="#828282" opacity="1.0" filter="url(#bl0)"/>
<rect x="77.20" y="478.70" width="11.00" height="3.00" rx="1.50" fill="#0f0f0f" opacity="1.0" filter="url(#bl0)"/>
<rect x="91.80" y="478.70" width="11.00" height="3.00" rx="1.50" fill="#0f0f0f" opacity="1.0" filter="url(#bl0)"/>
<rect x="106.00" y="478.70" width="11.20" height="3.00" rx="1.50" fill="#6e6e6e" opacity="1.0" filter="url(#bl0)"/>
<rect x="20.30" y="492.60" width="10.50" height="2.40" rx="1.20" fill="#505050" opacity="1.0" filter="url(#bl0)"/>
<rect x="33.80" y="492.60" width="10.80" height="2.40" rx="1.20" fill="#b9b9b9" opacity="1.0" filter="url(#bl0)"/>
<rect x="48.60" y="492.60" width="10.40" height="2.40" rx="1.20" fill="#8c8c8c" opacity="1.0" filter="url(#bl0)"/>
<rect x="20.30" y="498.20" width="10.50" height="2.40" rx="1.20" fill="#373737" opacity="1.0" filter="url(#bl0)"/>
<rect x="33.80" y="498.20" width="10.80" height="2.40" rx="1.20" fill="#a0a0a0" opacity="1.0" filter="url(#bl0)"/>
<rect x="48.60" y="498.20" width="10.40" height="2.40" rx="1.20" fill="#5a5a5a" opacity="1.0" filter="url(#bl0)"/>
<rect x="77.20" y="491.90" width="11.00" height="2.80" rx="1.40" fill="#0f0f0f" opacity="1.0" filter="url(#bl0)"/>
<rect x="91.80" y="491.90" width="11.00" height="2.80" rx="1.40" fill="#141414" opacity="1.0" filter="url(#bl0)"/>
<rect x="106.00" y="491.90" width="11.20" height="2.80" rx="1.40" fill="#c8c8c8" opacity="1.0" filter="url(#bl0)"/>
<rect x="77.20" y="497.50" width="11.00" height="2.40" rx="1.20" fill="#232323" opacity="1.0" filter="url(#bl0)"/>
<rect x="91.80" y="497.50" width="11.00" height="2.40" rx="1.20" fill="#282828" opacity="1.0" filter="url(#bl0)"/>
<rect x="106.00" y="497.50" width="11.20" height="2.40" rx="1.20" fill="#282828" opacity="1.0" filter="url(#bl0)"/>
<rect x="20.30" y="511.50" width="10.50" height="2.40" rx="1.20" fill="#3c3c3c" opacity="1.0" filter="url(#bl0)"/>
<rect x="33.80" y="511.50" width="10.80" height="2.40" rx="1.20" fill="#5a5a5a" opacity="1.0" filter="url(#bl0)"/>
<rect x="48.60" y="511.50" width="10.40" height="2.40" rx="1.20" fill="#a0a0a0" opacity="1.0" filter="url(#bl0)"/>
<rect x="77.20" y="511.30" width="11.00" height="2.40" rx="1.20" fill="#5f5f5f" opacity="1.0" filter="url(#bl0)"/>
<rect x="91.80" y="511.30" width="11.00" height="2.40" rx="1.20" fill="#3c3c3c" opacity="1.0" filter="url(#bl0)"/>
<rect x="106.00" y="511.30" width="11.20" height="2.40" rx="1.20" fill="#969696" opacity="1.0" filter="url(#bl0)"/>
<rect x="20.30" y="524.50" width="10.50" height="3.00" rx="1.50" fill="#0f0f0f" opacity="1.0" filter="url(#bl0)"/>
<rect x="33.80" y="524.50" width="10.80" height="3.00" rx="1.50" fill="#555555" opacity="1.0" filter="url(#bl0)"/>
<rect x="48.60" y="524.50" width="10.40" height="3.00" rx="1.50" fill="#7d7d7d" opacity="1.0" filter="url(#bl0)"/>
<rect x="77.20" y="524.30" width="11.00" height="3.00" rx="1.50" fill="#0f0f0f" opacity="1.0" filter="url(#bl0)"/>
<rect x="91.80" y="524.30" width="11.00" height="3.00" rx="1.50" fill="#1e1e1e" opacity="1.0" filter="url(#bl0)"/>
<rect x="106.00" y="524.30" width="11.20" height="3.00" rx="1.50" fill="#d7d7d7" opacity="1.0" filter="url(#bl0)"/>
<rect x="19.80" y="540.50" width="11.50" height="3.20" rx="1.60" fill="#0c0c0c" opacity="1.0" filter="url(#bl0)"/>
<rect x="33.30" y="540.50" width="11.80" height="3.20" rx="1.60" fill="#0c0c0c" opacity="1.0" filter="url(#bl0)"/>
<rect x="48.10" y="540.50" width="11.40" height="3.20" rx="1.60" fill="#0c0c0c" opacity="1.0" filter="url(#bl0)"/>
<rect x="76.70" y="540.50" width="12.00" height="3.20" rx="1.60" fill="#0c0c0c" opacity="1.0" filter="url(#bl0)"/>
<rect x="91.30" y="540.50" width="12.00" height="3.20" rx="1.60" fill="#0c0c0c" opacity="1.0" filter="url(#bl0)"/>
<rect x="105.50" y="540.50" width="12.20" height="3.20" rx="1.60" fill="#0c0c0c" opacity="1.0" filter="url(#bl0)"/>
<text x="123.40" y="458.90" font-size="8.60" text-anchor="start" fill="#2b2b2b" textLength="49.00" lengthAdjust="spacingAndGlyphs" stroke="#2b2b2b" stroke-width="0.06" >p-RB(s780)FL</text>
<text x="123.40" y="469.00" font-size="8.60" text-anchor="start" fill="#2b2b2b" textLength="45.50" lengthAdjust="spacingAndGlyphs" stroke="#2b2b2b" stroke-width="0.06" >p-RB(s780)T</text>
<text x="123.40" y="482.50" font-size="9.63" text-anchor="start" fill="#2b2b2b" textLength="22.94" lengthAdjust="spacingAndGlyphs" stroke="#2b2b2b" stroke-width="0.06" >CHK1</text>
<text x="123.40" y="497.60" font-size="9.63" text-anchor="start" fill="#2b2b2b" textLength="29.15" lengthAdjust="spacingAndGlyphs" stroke="#2b2b2b" stroke-width="0.06" >CCNA2</text>
<text x="123.40" y="512.70" font-size="9.63" text-anchor="start" fill="#2b2b2b" textLength="22.94" lengthAdjust="spacingAndGlyphs" stroke="#2b2b2b" stroke-width="0.06" >CDK1</text>
<text x="123.40" y="528.00" font-size="9.63" text-anchor="start" fill="#2b2b2b" textLength="15.77" lengthAdjust="spacingAndGlyphs" stroke="#2b2b2b" stroke-width="0.06" >TK1</text>
<text x="123.40" y="543.80" font-size="9.63" text-anchor="start" fill="#2b2b2b" textLength="33.18" lengthAdjust="spacingAndGlyphs" stroke="#2b2b2b" stroke-width="0.06" >α-tubulin</text>
<line x1="176.60" y1="456.70" x2="183.00" y2="456.70" stroke="#4a4a5a" stroke-width="0.8" />
<circle cx="179.80" cy="456.70" r="1.8" fill="#4a4a5a" />
<line x1="176.00" y1="467.20" x2="182.40" y2="467.20" stroke="#f0a232" stroke-width="0.8" />
<path d="M179.20,465.20 L181.20,467.20 L179.20,469.20 L177.20,467.20 Z" fill="#f0a232"/>
<line x1="155.50" y1="482.00" x2="161.90" y2="482.00" stroke="#1c4f8e" stroke-width="0.8" />
<circle cx="158.70" cy="482.00" r="1.9" fill="#1c4f8e" />
<line x1="155.00" y1="496.20" x2="161.20" y2="496.20" stroke="#d2102c" stroke-width="0.8" />
<path d="M156.20,497.91 L160.00,497.91 L158.10,494.49 Z" fill="#d2102c"/>
<line x1="155.00" y1="510.00" x2="161.20" y2="510.00" stroke="#5c1c5e" stroke-width="0.8" />
<path d="M158.10,508.10 L160.00,510.00 L158.10,511.90 L156.20,510.00 Z" fill="#5c1c5e"/>
<line x1="155.00" y1="523.80" x2="161.20" y2="523.80" stroke="#3aa43a" stroke-width="0.8" />
<circle cx="158.10" cy="523.80" r="1.3" fill="#3aa43a" />
<line x1="238.50" y1="435.20" x2="238.50" y2="510.50" stroke="#222" stroke-width="1.1" />
<line x1="238.50" y1="510.50" x2="322.40" y2="510.50" stroke="#222" stroke-width="1.1" />
<line x1="235.30" y1="510.50" x2="238.50" y2="510.50" stroke="#222" stroke-width="1" />
<text x="232.30" y="513.80" font-size="9.52" text-anchor="end" fill="#2b2b2b" textLength="11.82" lengthAdjust="spacingAndGlyphs" stroke="#2b2b2b" stroke-width="0.06" >0.0</text>
<line x1="236.50" y1="496.02" x2="238.50" y2="496.02" stroke="#222" stroke-width="1" />
<line x1="235.30" y1="481.55" x2="238.50" y2="481.55" stroke="#222" stroke-width="1" />
<text x="232.30" y="484.85" font-size="9.52" text-anchor="end" fill="#2b2b2b" textLength="11.82" lengthAdjust="spacingAndGlyphs" stroke="#2b2b2b" stroke-width="0.06" >0.5</text>
<line x1="236.50" y1="467.07" x2="238.50" y2="467.07" stroke="#222" stroke-width="1" />
<line x1="235.30" y1="452.60" x2="238.50" y2="452.60" stroke="#222" stroke-width="1" />
<text x="232.30" y="455.90" font-size="9.52" text-anchor="end" fill="#2b2b2b" textLength="11.82" lengthAdjust="spacingAndGlyphs" stroke="#2b2b2b" stroke-width="0.06" >1.0</text>
<line x1="236.50" y1="438.12" x2="238.50" y2="438.12" stroke="#222" stroke-width="1" />
<line x1="251.50" y1="510.50" x2="251.50" y2="513.50" stroke="#222" stroke-width="1" />
<line x1="263.50" y1="510.50" x2="263.50" y2="513.50" stroke="#222" stroke-width="1" />
<line x1="275.30" y1="510.50" x2="275.30" y2="513.50" stroke="#222" stroke-width="1" />
<line x1="287.50" y1="510.50" x2="287.50" y2="513.50" stroke="#222" stroke-width="1" />
<line x1="299.50" y1="510.50" x2="299.50" y2="513.50" stroke="#222" stroke-width="1" />
<line x1="311.60" y1="510.50" x2="311.60" y2="513.50" stroke="#222" stroke-width="1" />
<text x="254.90" y="521.50" font-size="9.41" text-anchor="end" fill="#2b2b2b" stroke="#2b2b2b" stroke-width="0.06" transform="rotate(-45 254.90 521.50)" >0</text>
<text x="266.90" y="521.50" font-size="9.41" text-anchor="end" fill="#2b2b2b" textLength="14.02" lengthAdjust="spacingAndGlyphs" stroke="#2b2b2b" stroke-width="0.06" transform="rotate(-45 266.90 521.50)" >150</text>
<text x="278.70" y="521.50" font-size="9.41" text-anchor="end" fill="#2b2b2b" textLength="18.69" lengthAdjust="spacingAndGlyphs" stroke="#2b2b2b" stroke-width="0.06" transform="rotate(-45 278.70 521.50)" >1000</text>
<text x="290.90" y="521.50" font-size="9.41" text-anchor="end" fill="#2b2b2b" stroke="#2b2b2b" stroke-width="0.06" transform="rotate(-45 290.90 521.50)" >0</text>
<text x="302.90" y="521.50" font-size="9.41" text-anchor="end" fill="#2b2b2b" textLength="9.34" lengthAdjust="spacingAndGlyphs" stroke="#2b2b2b" stroke-width="0.06" transform="rotate(-45 302.90 521.50)" >50</text>
<text x="315.00" y="521.50" font-size="9.41" text-anchor="end" fill="#2b2b2b" textLength="14.02" lengthAdjust="spacingAndGlyphs" stroke="#2b2b2b" stroke-width="0.06" transform="rotate(-45 315.00 521.50)" >500</text>
<text x="203.20" y="472.40" font-size="9.20" text-anchor="middle" fill="#2b2b2b" textLength="21.50" lengthAdjust="spacingAndGlyphs" stroke="#2b2b2b" stroke-width="0.06" transform="rotate(-90 203.20 472.40)" >Norm.</text>
<text x="214.40" y="472.60" font-size="9.20" text-anchor="middle" fill="#2b2b2b" textLength="65.00" lengthAdjust="spacingAndGlyphs" stroke="#2b2b2b" stroke-width="0.06" transform="rotate(-90 214.40 472.60)" >protein expression</text>
<text x="263.30" y="426.50" font-size="9.07" text-anchor="middle" fill="#2b2b2b" textLength="21.16" lengthAdjust="spacingAndGlyphs" stroke="#2b2b2b" stroke-width="0.06" >Z-138</text>
<text x="278.10" y="426.50" font-size="8.50" text-anchor="start" fill="#2b2b2b" textLength="43.00" lengthAdjust="spacingAndGlyphs" stroke="#2b2b2b" stroke-width="0.06" >Granta-519</text>
<text x="263.60" y="547.50" font-size="10.00" text-anchor="middle" fill="#2b2b2b" textLength="29.00" lengthAdjust="spacingAndGlyphs" stroke="#2b2b2b" stroke-width="0.06" >PRT-382</text>
<text x="263.50" y="559.50" font-size="10.00" text-anchor="middle" fill="#2b2b2b" textLength="17.70" lengthAdjust="spacingAndGlyphs" stroke="#2b2b2b" stroke-width="0.06" >(nM)</text>
<text x="299.80" y="547.50" font-size="10.00" text-anchor="middle" fill="#2b2b2b" textLength="19.50" lengthAdjust="spacingAndGlyphs" stroke="#2b2b2b" stroke-width="0.06" >Day 6</text>
<polyline points="251.50,452.60 263.50,446.81 275.30,470.55" fill="none" stroke="#4a4a5a" stroke-width="1.1"/>
<polyline points="287.50,452.60 299.50,441.02 311.60,476.34" fill="none" stroke="#4a4a5a" stroke-width="1.1"/>
<polyline points="251.50,452.60 263.50,493.71 275.30,493.71" fill="none" stroke="#3aa43a" stroke-width="1.1"/>
<polyline points="287.50,452.60 299.50,469.97 311.60,505.29" fill="none" stroke="#3aa43a" stroke-width="1.1"/>
<polyline points="251.50,452.60 263.50,472.29 275.30,491.39" fill="none" stroke="#f0a232" stroke-width="1.1"/>
<polyline points="287.50,452.60 299.50,464.18 311.60,487.92" fill="none" stroke="#f0a232" stroke-width="1.1"/>
<polyline points="251.50,452.60 263.50,476.34 275.30,476.34" fill="none" stroke="#d2102c" stroke-width="1.1"/>
<polyline points="287.50,452.60 299.50,458.39 311.60,476.34" fill="none" stroke="#d2102c" stroke-width="1.1"/>
<polyline points="251.50,452.60 263.50,464.18 275.30,487.92" fill="none" stroke="#5c1c5e" stroke-width="1.1"/>
<polyline points="287.50,452.60 299.50,458.39 311.60,476.34" fill="none" stroke="#5c1c5e" stroke-width="1.1"/>
<polyline points="251.50,452.60 263.50,470.55 275.30,481.55" fill="none" stroke="#1c4f8e" stroke-width="1.1"/>
<polyline points="287.50,452.60 299.50,452.60 311.60,476.34" fill="none" stroke="#1c4f8e" stroke-width="1.1"/>
<circle cx="251.50" cy="452.60" r="2.2" fill="#4a4a5a" />
<circle cx="263.50" cy="446.81" r="2.2" fill="#4a4a5a" />
<circle cx="275.30" cy="470.55" r="2.2" fill="#4a4a5a" />
<circle cx="287.50" cy="452.60" r="2.2" fill="#4a4a5a" />
<circle cx="299.50" cy="441.02" r="2.2" fill="#4a4a5a" />
<circle cx="311.60" cy="476.34" r="2.2" fill="#4a4a5a" />
<circle cx="251.50" cy="452.60" r="1.4300000000000002" fill="#3aa43a" />
<circle cx="263.50" cy="493.71" r="1.4300000000000002" fill="#3aa43a" />
<circle cx="275.30" cy="493.71" r="1.4300000000000002" fill="#3aa43a" />
<circle cx="287.50" cy="452.60" r="1.4300000000000002" fill="#3aa43a" />
<circle cx="299.50" cy="469.97" r="1.4300000000000002" fill="#3aa43a" />
<circle cx="311.60" cy="505.29" r="1.4300000000000002" fill="#3aa43a" />
<circle cx="251.50" cy="452.60" r="1.9800000000000002" fill="#f0a232" />
<circle cx="263.50" cy="472.29" r="1.9800000000000002" fill="#f0a232" />
<circle cx="275.30" cy="491.39" r="1.9800000000000002" fill="#f0a232" />
<circle cx="287.50" cy="452.60" r="1.9800000000000002" fill="#f0a232" />
<circle cx="299.50" cy="464.18" r="1.9800000000000002" fill="#f0a232" />
<circle cx="311.60" cy="487.92" r="1.9800000000000002" fill="#f0a232" />
<path d="M249.19,454.68 L253.81,454.68 L251.50,450.52 Z" fill="#d2102c"/>
<path d="M261.19,478.42 L265.81,478.42 L263.50,474.26 Z" fill="#d2102c"/>
<path d="M272.99,478.42 L277.61,478.42 L275.30,474.26 Z" fill="#d2102c"/>
<path d="M285.19,454.68 L289.81,454.68 L287.50,450.52 Z" fill="#d2102c"/>
<path d="M297.19,460.47 L301.81,460.47 L299.50,456.31 Z" fill="#d2102c"/>
<path d="M309.29,478.42 L313.91,478.42 L311.60,474.26 Z" fill="#d2102c"/>
<circle cx="251.50" cy="452.60" r="2.09" fill="#5c1c5e" />
<circle cx="263.50" cy="464.18" r="2.09" fill="#5c1c5e" />
<circle cx="275.30" cy="487.92" r="2.09" fill="#5c1c5e" />
<circle cx="287.50" cy="452.60" r="2.09" fill="#5c1c5e" />
<circle cx="299.50" cy="458.39" r="2.09" fill="#5c1c5e" />
<circle cx="311.60" cy="476.34" r="2.09" fill="#5c1c5e" />
<rect x="249.42" y="450.52" width="4.16" height="4.16" fill="#1c4f8e" />
<rect x="261.42" y="468.47" width="4.16" height="4.16" fill="#1c4f8e" />
<rect x="273.22" y="479.47" width="4.16" height="4.16" fill="#1c4f8e" />
<rect x="285.42" y="450.52" width="4.16" height="4.16" fill="#1c4f8e" />
<rect x="297.42" y="450.52" width="4.16" height="4.16" fill="#1c4f8e" />
<rect x="309.52" y="474.26" width="4.16" height="4.16" fill="#1c4f8e" />
<text x="0" y="0" font-size="12.5" font-weight="bold" fill="#111" transform="translate(7.07 581.80) scale(0.994 1)">F</text>
<text x="77.50" y="597.00" font-size="11.42" text-anchor="middle" fill="#2b2b2b" textLength="36.85" lengthAdjust="spacingAndGlyphs" stroke="#2b2b2b" stroke-width="0.06" >PDX AA</text>
<text x="31.30" y="613.20" font-size="9.63" text-anchor="middle" fill="#2b2b2b" textLength="11.95" lengthAdjust="spacingAndGlyphs" stroke="#2b2b2b" stroke-width="0.06" >VC</text>
<text x="66.30" y="613.20" font-size="9.63" text-anchor="middle" fill="#2b2b2b" textLength="30.60" lengthAdjust="spacingAndGlyphs" stroke="#2b2b2b" stroke-width="0.06" >Ibrutinib</text>
<text x="112.50" y="613.20" font-size="9.63" text-anchor="middle" fill="#2b2b2b" textLength="33.78" lengthAdjust="spacingAndGlyphs" stroke="#2b2b2b" stroke-width="0.06" >PRT-382</text>
<line x1="18.70" y1="615.00" x2="42.00" y2="615.00" stroke="#6a6a6a" stroke-width="1.4" />
<line x1="47.50" y1="615.00" x2="85.00" y2="615.00" stroke="#6a6a6a" stroke-width="1.4" />
<line x1="91.20" y1="615.00" x2="131.80" y2="615.00" stroke="#6a6a6a" stroke-width="1.4" />
<rect x="17.40" y="618.20" width="120.60" height="16.00" fill="#e4e4e4" />
<rect x="17.40" y="637.40" width="120.60" height="26.60" fill="#e4e4e4" />
<rect x="17.40" y="669.00" width="120.60" height="14.20" fill="#e4e4e4" />
<rect x="21.00" y="625.70" width="9.50" height="3.80" rx="1.90" fill="#0a0a0a" opacity="1.0" filter="url(#bl1)"/>
<rect x="35.00" y="626.00" width="10.00" height="2.40" rx="1.20" fill="#1e1e1e" opacity="1.0" filter="url(#bl1)"/>
<rect x="48.90" y="625.80" width="10.80" height="2.40" rx="1.20" fill="#232323" opacity="1.0" filter="url(#bl1)"/>
<rect x="64.00" y="625.30" width="9.50" height="2.60" rx="1.30" fill="#191919" opacity="1.0" filter="url(#bl1)"/>
<rect x="77.80" y="623.40" width="10.40" height="3.80" rx="1.90" fill="#050505" opacity="1.0" filter="url(#bl1)"/>
<rect x="92.40" y="624.50" width="10.80" height="2.00" rx="1.00" fill="#646464" opacity="1.0" filter="url(#bl1)"/>
<rect x="108.30" y="624.50" width="10.70" height="2.00" rx="1.00" fill="#696969" opacity="1.0" filter="url(#bl1)"/>
<rect x="124.80" y="624.80" width="10.20" height="2.00" rx="1.00" fill="#828282" opacity="1.0" filter="url(#bl1)"/>
<rect x="21.00" y="642.90" width="9.50" height="2.60" rx="1.30" fill="#969696" opacity="1.0" filter="url(#bl2)"/>
<rect x="21.00" y="647.10" width="9.50" height="3.40" rx="1.70" fill="#505050" opacity="1.0" filter="url(#bl2)"/>
<rect x="21.00" y="653.30" width="9.50" height="3.40" rx="1.70" fill="#464646" opacity="1.0" filter="url(#bl2)"/>
<rect x="35.00" y="642.90" width="10.00" height="2.60" rx="1.30" fill="#afafaf" opacity="1.0" filter="url(#bl2)"/>
<rect x="35.00" y="647.10" width="10.00" height="3.40" rx="1.70" fill="#7d7d7d" opacity="1.0" filter="url(#bl2)"/>
<rect x="35.00" y="653.30" width="10.00" height="3.40" rx="1.70" fill="#6e6e6e" opacity="1.0" filter="url(#bl2)"/>
<rect x="48.90" y="642.90" width="10.80" height="2.60" rx="1.30" fill="#bebebe" opacity="1.0" filter="url(#bl2)"/>
<rect x="48.90" y="647.10" width="10.80" height="3.40" rx="1.70" fill="#5f5f5f" opacity="1.0" filter="url(#bl2)"/>
<rect x="48.90" y="653.30" width="10.80" height="3.40" rx="1.70" fill="#505050" opacity="1.0" filter="url(#bl2)"/>
<rect x="64.00" y="642.90" width="9.50" height="2.60" rx="1.30" fill="#aaaaaa" opacity="1.0" filter="url(#bl2)"/>
<rect x="64.00" y="647.10" width="9.50" height="3.40" rx="1.70" fill="#5f5f5f" opacity="1.0" filter="url(#bl2)"/>
<rect x="64.00" y="653.30" width="9.50" height="3.40" rx="1.70" fill="#505050" opacity="1.0" filter="url(#bl2)"/>
<rect x="77.80" y="642.90" width="10.40" height="2.60" rx="1.30" fill="#787878" opacity="1.0" filter="url(#bl2)"/>
<rect x="77.80" y="647.10" width="10.40" height="3.40" rx="1.70" fill="#2d2d2d" opacity="1.0" filter="url(#bl2)"/>
<rect x="77.80" y="653.30" width="10.40" height="3.40" rx="1.70" fill="#3c3c3c" opacity="1.0" filter="url(#bl2)"/>
<rect x="92.40" y="642.90" width="10.80" height="2.60" rx="1.30" fill="#afafaf" opacity="1.0" filter="url(#bl2)"/>
<rect x="92.40" y="647.10" width="10.80" height="3.40" rx="1.70" fill="#787878" opacity="1.0" filter="url(#bl2)"/>
<rect x="92.40" y="653.30" width="10.80" height="3.40" rx="1.70" fill="#6e6e6e" opacity="1.0" filter="url(#bl2)"/>
<rect x="108.30" y="642.90" width="10.70" height="2.60" rx="1.30" fill="#cdcdcd" opacity="1.0" filter="url(#bl2)"/>
<rect x="108.30" y="647.10" width="10.70" height="3.40" rx="1.70" fill="#8c8c8c" opacity="1.0" filter="url(#bl2)"/>
<rect x="108.30" y="653.30" width="10.70" height="3.40" rx="1.70" fill="#878787" opacity="1.0" filter="url(#bl2)"/>
<rect x="124.80" y="642.90" width="10.20" height="2.60" rx="1.30" fill="#cdcdcd" opacity="1.0" filter="url(#bl2)"/>
<rect x="124.80" y="647.10" width="10.20" height="3.40" rx="1.70" fill="#8c8c8c" opacity="1.0" filter="url(#bl2)"/>
<rect x="124.80" y="653.30" width="10.20" height="3.40" rx="1.70" fill="#878787" opacity="1.0" filter="url(#bl2)"/>
<rect x="21.00" y="645.30" width="5.00" height="3.40" rx="1.70" fill="#3c3c3c" opacity="1.0" filter="url(#bl2)"/>
<rect x="21.00" y="652.30" width="6.00" height="3.40" rx="1.70" fill="#3c3c3c" opacity="1.0" filter="url(#bl2)"/>
<rect x="19.80" y="674.20" width="11.70" height="4.80" rx="2.00" fill="#121212" opacity="1.0" filter="url(#bl1)"/>
<rect x="33.80" y="674.20" width="12.20" height="4.80" rx="2.00" fill="#121212" opacity="1.0" filter="url(#bl1)"/>
<rect x="47.70" y="674.20" width="13.00" height="4.80" rx="2.00" fill="#121212" opacity="1.0" filter="url(#bl1)"/>
<rect x="62.80" y="674.20" width="11.70" height="4.80" rx="2.00" fill="#121212" opacity="1.0" filter="url(#bl1)"/>
<rect x="76.60" y="674.20" width="12.60" height="4.80" rx="2.00" fill="#121212" opacity="1.0" filter="url(#bl1)"/>
<rect x="91.20" y="674.20" width="13.00" height="4.80" rx="2.00" fill="#121212" opacity="1.0" filter="url(#bl1)"/>
<rect x="107.10" y="674.20" width="12.90" height="4.80" rx="2.00" fill="#121212" opacity="1.0" filter="url(#bl1)"/>
<rect x="123.60" y="674.20" width="12.40" height="4.80" rx="2.00" fill="#121212" opacity="1.0" filter="url(#bl1)"/>
<text x="140.00" y="628.90" font-size="9.63" text-anchor="start" fill="#2b2b2b" textLength="22.94" lengthAdjust="spacingAndGlyphs" stroke="#2b2b2b" stroke-width="0.06" >CDK1</text>
<text x="140.00" y="657.80" font-size="9.63" text-anchor="start" fill="#2b2b2b" textLength="29.15" lengthAdjust="spacingAndGlyphs" stroke="#2b2b2b" stroke-width="0.06" >CCNA2</text>
<text x="140.00" y="679.20" font-size="9.63" text-anchor="start" fill="#2b2b2b" textLength="25.98" lengthAdjust="spacingAndGlyphs" stroke="#2b2b2b" stroke-width="0.06" >β-actin</text>
<line x1="238.50" y1="598.00" x2="238.50" y2="675.50" stroke="#222" stroke-width="1.1" />
<line x1="238.50" y1="675.50" x2="320.00" y2="675.50" stroke="#222" stroke-width="1.1" />
<line x1="235.30" y1="675.50" x2="238.50" y2="675.50" stroke="#222" stroke-width="1" />
<text x="232.30" y="678.80" font-size="9.52" text-anchor="end" fill="#2b2b2b" textLength="11.82" lengthAdjust="spacingAndGlyphs" stroke="#2b2b2b" stroke-width="0.06" >0.0</text>
<line x1="235.30" y1="650.70" x2="238.50" y2="650.70" stroke="#222" stroke-width="1" />
<text x="232.30" y="654.00" font-size="9.52" text-anchor="end" fill="#2b2b2b" textLength="11.82" lengthAdjust="spacingAndGlyphs" stroke="#2b2b2b" stroke-width="0.06" >0.5</text>
<line x1="235.30" y1="625.90" x2="238.50" y2="625.90" stroke="#222" stroke-width="1" />
<text x="232.30" y="629.20" font-size="9.52" text-anchor="end" fill="#2b2b2b" textLength="11.82" lengthAdjust="spacingAndGlyphs" stroke="#2b2b2b" stroke-width="0.06" >1.0</text>
<line x1="235.30" y1="601.10" x2="238.50" y2="601.10" stroke="#222" stroke-width="1" />
<text x="232.30" y="604.40" font-size="9.52" text-anchor="end" fill="#2b2b2b" textLength="11.82" lengthAdjust="spacingAndGlyphs" stroke="#2b2b2b" stroke-width="0.06" >1.5</text>
<rect x="245.20" y="630.36" width="6.90" height="45.14" fill="#8f9dcc" />
<line x1="248.65" y1="626.40" x2="248.65" y2="634.33" stroke="#173a63" stroke-width="0.8" />
<line x1="246.85" y1="626.40" x2="250.45" y2="626.40" stroke="#173a63" stroke-width="0.8" />
<line x1="246.85" y1="634.33" x2="250.45" y2="634.33" stroke="#173a63" stroke-width="0.8" />
<rect x="256.00" y="642.76" width="6.90" height="32.74" fill="#ec8b80" />
<line x1="259.45" y1="636.81" x2="259.45" y2="648.72" stroke="#d85060" stroke-width="0.8" />
<line x1="257.65" y1="636.81" x2="261.25" y2="636.81" stroke="#d85060" stroke-width="0.8" />
<line x1="257.65" y1="648.72" x2="261.25" y2="648.72" stroke="#d85060" stroke-width="0.8" />
<rect x="266.40" y="657.15" width="6.90" height="18.35" fill="#abd794" />
<line x1="269.85" y1="656.16" x2="269.85" y2="658.14" stroke="#3c9a3c" stroke-width="0.8" />
<line x1="268.05" y1="656.16" x2="271.65" y2="656.16" stroke="#3c9a3c" stroke-width="0.8" />
<line x1="268.05" y1="658.14" x2="271.65" y2="658.14" stroke="#3c9a3c" stroke-width="0.8" />
<rect x="286.40" y="637.31" width="6.90" height="38.19" fill="#8f9dcc" />
<line x1="289.85" y1="626.40" x2="289.85" y2="648.22" stroke="#173a63" stroke-width="0.8" />
<line x1="288.05" y1="626.40" x2="291.65" y2="626.40" stroke="#173a63" stroke-width="0.8" />
<line x1="288.05" y1="648.22" x2="291.65" y2="648.22" stroke="#173a63" stroke-width="0.8" />
<rect x="296.90" y="634.83" width="6.90" height="40.67" fill="#ec8b80" />
<line x1="300.35" y1="629.87" x2="300.35" y2="639.79" stroke="#d85060" stroke-width="0.8" />
<line x1="298.55" y1="629.87" x2="302.15" y2="629.87" stroke="#d85060" stroke-width="0.8" />
<line x1="298.55" y1="639.79" x2="302.15" y2="639.79" stroke="#d85060" stroke-width="0.8" />
<rect x="307.20" y="651.20" width="6.90" height="24.30" fill="#abd794" />
<line x1="310.65" y1="650.70" x2="310.65" y2="651.69" stroke="#3c9a3c" stroke-width="0.8" />
<line x1="308.85" y1="650.70" x2="312.45" y2="650.70" stroke="#3c9a3c" stroke-width="0.8" />
<line x1="308.85" y1="651.69" x2="312.45" y2="651.69" stroke="#3c9a3c" stroke-width="0.8" />
<circle cx="248.65" cy="626.40" r="1.6" fill="#173a63" />
<circle cx="248.65" cy="630.86" r="1.6" fill="#173a63" />
<circle cx="248.65" cy="634.83" r="1.6" fill="#173a63" />
<rect x="257.95" y="635.31" width="3.00" height="3.00" fill="#c8102e" />
<rect x="257.95" y="641.26" width="3.00" height="3.00" fill="#c8102e" />
<rect x="257.95" y="645.23" width="3.00" height="3.00" fill="#c8102e" />
<path d="M266.35,658.50 L269.35,658.50 L267.85,655.80 Z" fill="#3c9a3c"/>
<path d="M268.35,658.50 L271.35,658.50 L269.85,655.80 Z" fill="#3c9a3c"/>
<path d="M270.35,658.50 L273.35,658.50 L271.85,655.80 Z" fill="#3c9a3c"/>
<circle cx="289.85" cy="633.34" r="1.6" fill="#173a63" />
<circle cx="289.85" cy="637.80" r="1.6" fill="#173a63" />
<circle cx="289.85" cy="641.77" r="1.6" fill="#173a63" />
<rect x="298.85" y="627.38" width="3.00" height="3.00" fill="#c8102e" />
<rect x="298.85" y="633.33" width="3.00" height="3.00" fill="#c8102e" />
<rect x="298.85" y="637.30" width="3.00" height="3.00" fill="#c8102e" />
<path d="M307.15,652.55 L310.15,652.55 L308.65,649.85 Z" fill="#3c9a3c"/>
<path d="M309.15,652.55 L312.15,652.55 L310.65,649.85 Z" fill="#3c9a3c"/>
<path d="M311.15,652.55 L314.15,652.55 L312.65,649.85 Z" fill="#3c9a3c"/>
<line x1="259.50" y1="675.50" x2="259.50" y2="678.50" stroke="#222" stroke-width="1" />
<line x1="300.50" y1="675.50" x2="300.50" y2="678.50" stroke="#222" stroke-width="1" />
<path d="M248.60,603.00 L248.60,597.20 L269.90,597.20 L269.90,654.00" stroke="#444" fill="none" stroke-width="0.9" />
<text x="259.25" y="597.30" font-size="8.96" text-anchor="middle" fill="#3a3a3a" font-weight="bold" textLength="9.34" lengthAdjust="spacingAndGlyphs" >***</text>
<path d="M259.50,623.00 L259.50,615.70 L269.90,615.70 L269.90,654.00" stroke="#444" fill="none" stroke-width="0.9" />
<text x="264.70" y="615.80" font-size="8.96" text-anchor="middle" fill="#3a3a3a" font-weight="bold" textLength="6.23" lengthAdjust="spacingAndGlyphs" >**</text>
<path d="M289.80,603.00 L289.80,597.20 L310.60,597.20 L310.60,648.00" stroke="#444" fill="none" stroke-width="0.9" />
<text x="300.20" y="597.30" font-size="8.96" text-anchor="middle" fill="#3a3a3a" font-weight="bold" >*</text>
<path d="M300.40,623.00 L300.40,615.70 L310.60,615.70 L310.60,648.00" stroke="#444" fill="none" stroke-width="0.9" />
<text x="305.50" y="615.80" font-size="8.96" text-anchor="middle" fill="#3a3a3a" font-weight="bold" textLength="6.23" lengthAdjust="spacingAndGlyphs" >**</text>
<text x="259.50" y="688.70" font-size="9.63" text-anchor="middle" fill="#2b2b2b" textLength="22.94" lengthAdjust="spacingAndGlyphs" stroke="#2b2b2b" stroke-width="0.06" >CDK1</text>
<text x="300.40" y="688.70" font-size="9.63" text-anchor="middle" fill="#2b2b2b" textLength="29.15" lengthAdjust="spacingAndGlyphs" stroke="#2b2b2b" stroke-width="0.06" >CCNA2</text>
<text x="203.50" y="637.00" font-size="9.20" text-anchor="middle" fill="#2b2b2b" textLength="40.00" lengthAdjust="spacingAndGlyphs" stroke="#2b2b2b" stroke-width="0.06" transform="rotate(-90 203.50 637.00)" >Normalized</text>
<text x="214.50" y="637.60" font-size="9.20" text-anchor="middle" fill="#2b2b2b" textLength="64.00" lengthAdjust="spacingAndGlyphs" stroke="#2b2b2b" stroke-width="0.06" transform="rotate(-90 214.50 637.60)" >protein expression</text>
<circle cx="325.90" cy="625.10" r="2.3" fill="#173a63" />
<text x="331.60" y="628.10" font-size="9.63" text-anchor="start" fill="#2b2b2b" textLength="11.95" lengthAdjust="spacingAndGlyphs" stroke="#2b2b2b" stroke-width="0.06" >VC</text>
<rect x="323.90" y="634.90" width="4.00" height="4.00" fill="#c8102e" />
<text x="331.60" y="640.00" font-size="9.63" text-anchor="start" fill="#2b2b2b" textLength="30.60" lengthAdjust="spacingAndGlyphs" stroke="#2b2b2b" stroke-width="0.06" >Ibrutinib</text>
<path d="M323.60,650.57 L328.20,650.57 L325.90,646.43 Z" fill="#3c9a3c"/>
<text x="331.60" y="651.60" font-size="9.63" text-anchor="start" fill="#2b2b2b" textLength="31.39" lengthAdjust="spacingAndGlyphs" stroke="#2b2b2b" stroke-width="0.06" >PRT382</text>
<text x="0" y="0" font-size="12.5" font-weight="bold" fill="#111" transform="translate(381.67 409.80) scale(1.031 1)">G</text>
<text x="467.00" y="424.00" font-size="11.42" text-anchor="middle" fill="#2b2b2b" textLength="51.60" lengthAdjust="spacingAndGlyphs" stroke="#2b2b2b" stroke-width="0.06" >Granta-519</text>
<path d="M431.00,510.12 C431.50,509.81 433.08,509.30 434.00,508.24 C434.92,507.17 435.75,506.10 436.50,503.70 C437.25,501.31 437.82,497.66 438.50,493.89 C439.18,490.12 439.87,485.08 440.60,481.06 C441.33,477.03 442.23,473.57 442.90,469.73 C443.57,465.89 444.05,461.55 444.60,458.03 C445.15,454.50 445.67,451.30 446.20,448.59 C446.73,445.88 447.23,441.80 447.80,441.80 C448.37,441.80 448.98,445.88 449.60,448.59 C450.22,451.30 450.80,454.50 451.50,458.03 C452.20,461.55 453.02,465.89 453.80,469.73 C454.58,473.57 455.50,478.16 456.20,481.06 C456.90,483.95 457.33,485.18 458.00,487.10 C458.67,489.01 459.28,490.52 460.20,492.53 C461.12,494.54 462.25,497.26 463.50,499.18 C464.75,501.09 466.53,502.62 467.70,504.01 C468.87,505.39 469.53,506.52 470.50,507.48 C471.47,508.44 472.25,509.24 473.50,509.75 C474.75,510.25 477.25,510.37 478.00,510.50 L478.00,510.50 L431.00,510.50 Z" stroke="none" fill="#a7a9de" stroke-width="1" />
<path d="M431.00,510.12 C431.50,509.81 433.08,509.30 434.00,508.24 C434.92,507.17 435.75,506.10 436.50,503.70 C437.25,501.31 437.82,497.66 438.50,493.89 C439.18,490.12 439.87,485.08 440.60,481.06 C441.33,477.03 442.23,473.57 442.90,469.73 C443.57,465.89 444.05,461.55 444.60,458.03 C445.15,454.50 445.67,451.30 446.20,448.59 C446.73,445.88 447.23,441.80 447.80,441.80 C448.37,441.80 448.98,445.88 449.60,448.59 C450.22,451.30 450.80,454.50 451.50,458.03 C452.20,461.55 453.02,465.89 453.80,469.73 C454.58,473.57 455.50,478.16 456.20,481.06 C456.90,483.95 457.33,485.18 458.00,487.10 C458.67,489.01 459.28,490.52 460.20,492.53 C461.12,494.54 462.25,497.26 463.50,499.18 C464.75,501.09 466.53,502.62 467.70,504.01 C468.87,505.39 469.53,506.52 470.50,507.48 C471.47,508.44 472.25,509.24 473.50,509.75 C474.75,510.25 477.25,510.37 478.00,510.50" stroke="#5a5ca8" fill="none" stroke-width="0.9" stroke-dasharray="0.9 1.1"/>
<path d="M431.00,510.27 C431.67,510.06 433.75,509.71 435.00,508.99 C436.25,508.27 437.47,507.18 438.50,505.97 C439.53,504.76 440.45,503.50 441.20,501.74 C441.95,499.98 442.43,497.89 443.00,495.40 C443.57,492.91 444.10,489.56 444.60,486.79 C445.10,484.02 445.52,481.63 446.00,478.79 C446.48,475.95 446.97,472.75 447.50,469.73 C448.03,466.71 448.62,463.56 449.20,460.67 C449.78,457.78 450.43,454.88 451.00,452.37 C451.57,449.85 452.08,447.27 452.60,445.57 C453.12,443.87 453.53,442.17 454.10,442.17 C454.67,442.17 455.35,444.25 456.00,445.57 C456.65,446.89 457.33,448.59 458.00,450.10 C458.67,451.61 459.35,453.31 460.00,454.63 C460.65,455.95 461.15,456.52 461.90,458.03 C462.65,459.54 463.63,461.78 464.50,463.69 C465.37,465.60 466.08,466.61 467.10,469.50 C468.12,472.40 469.25,477.22 470.60,481.06 C471.95,484.89 473.97,489.39 475.20,492.53 C476.43,495.68 477.13,498.02 478.00,499.93 C478.87,501.84 479.40,502.87 480.40,504.01 C481.40,505.14 482.65,506.05 484.00,506.73 C485.35,507.40 487.00,507.81 488.50,508.08 C490.00,508.36 491.75,508.30 493.00,508.39 C494.25,508.47 494.83,508.36 496.00,508.61 C497.17,508.86 498.67,509.58 500.00,509.90 C501.33,510.21 503.33,510.40 504.00,510.50" stroke="#1e1e70" fill="none" stroke-width="1.45" stroke-dasharray="3 0.45"/>
<rect x="429.50" y="430.50" width="81.00" height="80.00" fill="none" stroke="#222" stroke-width="1"/>
<line x1="429.50" y1="430.50" x2="429.50" y2="510.50" stroke="#222" stroke-width="1.3" />
<line x1="429.50" y1="510.50" x2="510.50" y2="510.50" stroke="#222" stroke-width="1.3" />
<line x1="426.30" y1="510.50" x2="429.50" y2="510.50" stroke="#222" stroke-width="0.9" />
<text x="423.00" y="513.40" font-size="9.18" text-anchor="end" fill="#2b2b2b" stroke="#2b2b2b" stroke-width="0.06" >0</text>
<line x1="427.50" y1="502.95" x2="429.50" y2="502.95" stroke="#222" stroke-width="0.9" />
<line x1="426.30" y1="495.40" x2="429.50" y2="495.40" stroke="#222" stroke-width="0.9" />
<text x="423.00" y="498.30" font-size="9.18" text-anchor="end" fill="#2b2b2b" textLength="9.12" lengthAdjust="spacingAndGlyphs" stroke="#2b2b2b" stroke-width="0.06" >20</text>
<line x1="427.50" y1="487.85" x2="429.50" y2="487.85" stroke="#222" stroke-width="0.9" />
<line x1="426.30" y1="480.30" x2="429.50" y2="480.30" stroke="#222" stroke-width="0.9" />
<text x="423.00" y="483.20" font-size="9.18" text-anchor="end" fill="#2b2b2b" textLength="9.12" lengthAdjust="spacingAndGlyphs" stroke="#2b2b2b" stroke-width="0.06" >40</text>
<line x1="427.50" y1="472.75" x2="429.50" y2="472.75" stroke="#222" stroke-width="0.9" />
<line x1="426.30" y1="465.20" x2="429.50" y2="465.20" stroke="#222" stroke-width="0.9" />
<text x="423.00" y="468.10" font-size="9.18" text-anchor="end" fill="#2b2b2b" textLength="9.12" lengthAdjust="spacingAndGlyphs" stroke="#2b2b2b" stroke-width="0.06" >60</text>
<line x1="427.50" y1="457.65" x2="429.50" y2="457.65" stroke="#222" stroke-width="0.9" />
<line x1="426.30" y1="450.10" x2="429.50" y2="450.10" stroke="#222" stroke-width="0.9" />
<text x="423.00" y="453.00" font-size="9.18" text-anchor="end" fill="#2b2b2b" textLength="9.12" lengthAdjust="spacingAndGlyphs" stroke="#2b2b2b" stroke-width="0.06" >80</text>
<line x1="427.50" y1="442.55" x2="429.50" y2="442.55" stroke="#222" stroke-width="0.9" />
<line x1="426.30" y1="435.00" x2="429.50" y2="435.00" stroke="#222" stroke-width="0.9" />
<text x="423.00" y="437.90" font-size="9.18" text-anchor="end" fill="#2b2b2b" textLength="13.68" lengthAdjust="spacingAndGlyphs" stroke="#2b2b2b" stroke-width="0.06" >100</text>
<line x1="431.52" y1="510.50" x2="431.52" y2="512.30" stroke="#222" stroke-width="0.9" />
<line x1="435.04" y1="510.50" x2="435.04" y2="512.30" stroke="#222" stroke-width="0.9" />
<line x1="437.54" y1="510.50" x2="437.54" y2="512.30" stroke="#222" stroke-width="0.9" />
<line x1="439.48" y1="510.50" x2="439.48" y2="512.30" stroke="#222" stroke-width="0.9" />
<line x1="441.06" y1="510.50" x2="441.06" y2="512.30" stroke="#222" stroke-width="0.9" />
<line x1="442.40" y1="510.50" x2="442.40" y2="512.30" stroke="#222" stroke-width="0.9" />
<line x1="443.56" y1="510.50" x2="443.56" y2="512.30" stroke="#222" stroke-width="0.9" />
<line x1="444.58" y1="510.50" x2="444.58" y2="512.30" stroke="#222" stroke-width="0.9" />
<line x1="445.50" y1="510.50" x2="445.50" y2="513.70" stroke="#222" stroke-width="0.9" />
<line x1="451.52" y1="510.50" x2="451.52" y2="512.30" stroke="#222" stroke-width="0.9" />
<line x1="455.04" y1="510.50" x2="455.04" y2="512.30" stroke="#222" stroke-width="0.9" />
<line x1="457.54" y1="510.50" x2="457.54" y2="512.30" stroke="#222" stroke-width="0.9" />
<line x1="459.48" y1="510.50" x2="459.48" y2="512.30" stroke="#222" stroke-width="0.9" />
<line x1="461.06" y1="510.50" x2="461.06" y2="512.30" stroke="#222" stroke-width="0.9" />
<line x1="462.40" y1="510.50" x2="462.40" y2="512.30" stroke="#222" stroke-width="0.9" />
<line x1="463.56" y1="510.50" x2="463.56" y2="512.30" stroke="#222" stroke-width="0.9" />
<line x1="464.58" y1="510.50" x2="464.58" y2="512.30" stroke="#222" stroke-width="0.9" />
<text x="447.40" y="524.00" font-size="8.60" text-anchor="end" fill="#2b2b2b" textLength="7.70" lengthAdjust="spacingAndGlyphs" stroke="#2b2b2b" stroke-width="0.06" >10</text>
<text x="447.80" y="520.90" font-size="5.60" text-anchor="start" fill="#2b2b2b" stroke="#2b2b2b" stroke-width="0.05" >2</text>
<line x1="465.50" y1="510.50" x2="465.50" y2="513.70" stroke="#222" stroke-width="0.9" />
<line x1="471.52" y1="510.50" x2="471.52" y2="512.30" stroke="#222" stroke-width="0.9" />
<line x1="475.04" y1="510.50" x2="475.04" y2="512.30" stroke="#222" stroke-width="0.9" />
<line x1="477.54" y1="510.50" x2="477.54" y2="512.30" stroke="#222" stroke-width="0.9" />
<line x1="479.48" y1="510.50" x2="479.48" y2="512.30" stroke="#222" stroke-width="0.9" />
<line x1="481.06" y1="510.50" x2="481.06" y2="512.30" stroke="#222" stroke-width="0.9" />
<line x1="482.40" y1="510.50" x2="482.40" y2="512.30" stroke="#222" stroke-width="0.9" />
<line x1="483.56" y1="510.50" x2="483.56" y2="512.30" stroke="#222" stroke-width="0.9" />
<line x1="484.58" y1="510.50" x2="484.58" y2="512.30" stroke="#222" stroke-width="0.9" />
<text x="467.40" y="524.00" font-size="8.60" text-anchor="end" fill="#2b2b2b" textLength="7.70" lengthAdjust="spacingAndGlyphs" stroke="#2b2b2b" stroke-width="0.06" >10</text>
<text x="467.80" y="520.90" font-size="5.60" text-anchor="start" fill="#2b2b2b" stroke="#2b2b2b" stroke-width="0.05" >3</text>
<line x1="485.50" y1="510.50" x2="485.50" y2="513.70" stroke="#222" stroke-width="0.9" />
<line x1="491.52" y1="510.50" x2="491.52" y2="512.30" stroke="#222" stroke-width="0.9" />
<line x1="495.04" y1="510.50" x2="495.04" y2="512.30" stroke="#222" stroke-width="0.9" />
<line x1="497.54" y1="510.50" x2="497.54" y2="512.30" stroke="#222" stroke-width="0.9" />
<line x1="499.48" y1="510.50" x2="499.48" y2="512.30" stroke="#222" stroke-width="0.9" />
<line x1="501.06" y1="510.50" x2="501.06" y2="512.30" stroke="#222" stroke-width="0.9" />
<line x1="502.40" y1="510.50" x2="502.40" y2="512.30" stroke="#222" stroke-width="0.9" />
<line x1="503.56" y1="510.50" x2="503.56" y2="512.30" stroke="#222" stroke-width="0.9" />
<line x1="504.58" y1="510.50" x2="504.58" y2="512.30" stroke="#222" stroke-width="0.9" />
<text x="487.40" y="524.00" font-size="8.60" text-anchor="end" fill="#2b2b2b" textLength="7.70" lengthAdjust="spacingAndGlyphs" stroke="#2b2b2b" stroke-width="0.06" >10</text>
<text x="487.80" y="520.90" font-size="5.60" text-anchor="start" fill="#2b2b2b" stroke="#2b2b2b" stroke-width="0.05" >4</text>
<line x1="505.50" y1="510.50" x2="505.50" y2="513.70" stroke="#222" stroke-width="0.9" />
<text x="507.40" y="524.00" font-size="8.60" text-anchor="end" fill="#2b2b2b" textLength="7.70" lengthAdjust="spacingAndGlyphs" stroke="#2b2b2b" stroke-width="0.06" >10</text>
<text x="507.80" y="520.90" font-size="5.60" text-anchor="start" fill="#2b2b2b" stroke="#2b2b2b" stroke-width="0.05" >5</text>
<text x="402.60" y="470.50" font-size="9.63" text-anchor="middle" fill="#2b2b2b" textLength="26.28" lengthAdjust="spacingAndGlyphs" stroke="#2b2b2b" stroke-width="0.06" transform="rotate(-90 402.60 470.50)" >% max</text>
<rect x="472.40" y="435.50" width="5.60" height="5.60" fill="#a7a9de" />
<text x="481.20" y="440.90" font-size="9.41" text-anchor="start" fill="#2b2b2b" textLength="25.20" lengthAdjust="spacingAndGlyphs" stroke="#2b2b2b" stroke-width="0.06" >DMSO</text>
<rect x="472.90" y="445.10" width="5.0" height="5.0" fill="#f4fbfb" stroke="#2a5a6a" stroke-width="0.8"/>
<text x="481.20" y="450.70" font-size="9.41" text-anchor="start" fill="#2b2b2b" textLength="23.35" lengthAdjust="spacingAndGlyphs" stroke="#2b2b2b" stroke-width="0.06" >50 nM</text>
<text x="470.00" y="588.30" font-size="11.42" text-anchor="middle" fill="#2b2b2b" textLength="26.65" lengthAdjust="spacingAndGlyphs" stroke="#2b2b2b" stroke-width="0.06" >Z-138</text>
<path d="M431.00,675.12 C431.73,674.55 433.98,673.03 435.40,671.70 C436.82,670.37 438.07,669.04 439.50,667.14 C440.93,665.24 442.83,663.09 444.00,660.30 C445.17,657.51 445.70,654.60 446.50,650.42 C447.30,646.24 448.22,639.27 448.80,635.22 C449.38,631.17 449.67,629.01 450.00,626.10 C450.33,623.19 450.42,621.16 450.80,617.74 C451.18,614.32 451.80,608.37 452.30,605.58 C452.80,602.79 453.22,600.89 453.80,601.02 C454.38,601.15 455.22,604.44 455.80,606.34 C456.38,608.24 456.93,609.13 457.30,612.42 C457.67,615.71 457.80,622.30 458.00,626.10 C458.20,629.90 458.20,631.80 458.50,635.22 C458.80,638.64 459.38,643.45 459.80,646.62 C460.22,649.79 460.60,651.94 461.00,654.22 C461.40,656.50 461.62,658.15 462.20,660.30 C462.78,662.45 463.63,665.24 464.50,667.14 C465.37,669.04 466.48,670.50 467.40,671.70 C468.32,672.90 469.07,673.73 470.00,674.36 C470.93,674.99 472.50,675.31 473.00,675.50 L473.00,675.50 L431.00,675.50 Z" stroke="none" fill="#a7a9de" stroke-width="1" />
<path d="M431.00,675.12 C431.73,674.55 433.98,673.03 435.40,671.70 C436.82,670.37 438.07,669.04 439.50,667.14 C440.93,665.24 442.83,663.09 444.00,660.30 C445.17,657.51 445.70,654.60 446.50,650.42 C447.30,646.24 448.22,639.27 448.80,635.22 C449.38,631.17 449.67,629.01 450.00,626.10 C450.33,623.19 450.42,621.16 450.80,617.74 C451.18,614.32 451.80,608.37 452.30,605.58 C452.80,602.79 453.22,600.89 453.80,601.02 C454.38,601.15 455.22,604.44 455.80,606.34 C456.38,608.24 456.93,609.13 457.30,612.42 C457.67,615.71 457.80,622.30 458.00,626.10 C458.20,629.90 458.20,631.80 458.50,635.22 C458.80,638.64 459.38,643.45 459.80,646.62 C460.22,649.79 460.60,651.94 461.00,654.22 C461.40,656.50 461.62,658.15 462.20,660.30 C462.78,662.45 463.63,665.24 464.50,667.14 C465.37,669.04 466.48,670.50 467.40,671.70 C468.32,672.90 469.07,673.73 470.00,674.36 C470.93,674.99 472.50,675.31 473.00,675.50" stroke="#5a5ca8" fill="none" stroke-width="0.9" stroke-dasharray="0.9 1.1"/>
<path d="M438.00,675.50 C438.50,675.31 439.92,674.87 441.00,674.36 C442.08,673.85 443.42,673.03 444.50,672.46 C445.58,671.89 446.50,671.83 447.50,670.94 C448.50,670.05 449.48,668.91 450.50,667.14 C451.52,665.37 452.68,663.47 453.60,660.30 C454.52,657.13 455.27,652.32 456.00,648.14 C456.73,643.96 457.40,639.78 458.00,635.22 C458.60,630.66 459.10,624.96 459.60,620.78 C460.10,616.60 460.55,612.55 461.00,610.14 C461.45,607.73 461.77,606.09 462.30,606.34 C462.83,606.59 463.55,608.49 464.20,611.66 C464.85,614.83 465.57,621.41 466.20,625.34 C466.83,629.27 467.28,631.93 468.00,635.22 C468.72,638.51 469.58,642.19 470.50,645.10 C471.42,648.01 472.58,650.29 473.50,652.70 C474.42,655.11 475.08,657.77 476.00,659.54 C476.92,661.31 478.00,662.33 479.00,663.34 C480.00,664.35 481.05,664.92 482.00,665.62 C482.95,666.32 483.78,666.76 484.70,667.52 C485.62,668.28 486.53,669.23 487.50,670.18 C488.47,671.13 489.42,672.46 490.50,673.22 C491.58,673.98 492.75,674.36 494.00,674.74 C495.25,675.12 497.33,675.37 498.00,675.50" stroke="#1e1e70" fill="none" stroke-width="1.45" stroke-dasharray="3 0.45"/>
<rect x="429.50" y="593.50" width="81.00" height="82.00" fill="none" stroke="#222" stroke-width="1"/>
<line x1="429.50" y1="593.50" x2="429.50" y2="675.50" stroke="#222" stroke-width="1.3" />
<line x1="429.50" y1="675.50" x2="510.50" y2="675.50" stroke="#222" stroke-width="1.3" />
<line x1="426.30" y1="675.50" x2="429.50" y2="675.50" stroke="#222" stroke-width="0.9" />
<text x="423.00" y="678.40" font-size="9.18" text-anchor="end" fill="#2b2b2b" stroke="#2b2b2b" stroke-width="0.06" >0</text>
<line x1="427.50" y1="667.90" x2="429.50" y2="667.90" stroke="#222" stroke-width="0.9" />
<line x1="426.30" y1="660.30" x2="429.50" y2="660.30" stroke="#222" stroke-width="0.9" />
<text x="423.00" y="663.20" font-size="9.18" text-anchor="end" fill="#2b2b2b" textLength="9.12" lengthAdjust="spacingAndGlyphs" stroke="#2b2b2b" stroke-width="0.06" >20</text>
<line x1="427.50" y1="652.70" x2="429.50" y2="652.70" stroke="#222" stroke-width="0.9" />
<line x1="426.30" y1="645.10" x2="429.50" y2="645.10" stroke="#222" stroke-width="0.9" />
<text x="423.00" y="648.00" font-size="9.18" text-anchor="end" fill="#2b2b2b" textLength="9.12" lengthAdjust="spacingAndGlyphs" stroke="#2b2b2b" stroke-width="0.06" >40</text>
<line x1="427.50" y1="637.50" x2="429.50" y2="637.50" stroke="#222" stroke-width="0.9" />
<line x1="426.30" y1="629.90" x2="429.50" y2="629.90" stroke="#222" stroke-width="0.9" />
<text x="423.00" y="632.80" font-size="9.18" text-anchor="end" fill="#2b2b2b" textLength="9.12" lengthAdjust="spacingAndGlyphs" stroke="#2b2b2b" stroke-width="0.06" >60</text>
<line x1="427.50" y1="622.30" x2="429.50" y2="622.30" stroke="#222" stroke-width="0.9" />
<line x1="426.30" y1="614.70" x2="429.50" y2="614.70" stroke="#222" stroke-width="0.9" />
<text x="423.00" y="617.60" font-size="9.18" text-anchor="end" fill="#2b2b2b" textLength="9.12" lengthAdjust="spacingAndGlyphs" stroke="#2b2b2b" stroke-width="0.06" >80</text>
<line x1="427.50" y1="607.10" x2="429.50" y2="607.10" stroke="#222" stroke-width="0.9" />
<line x1="426.30" y1="599.50" x2="429.50" y2="599.50" stroke="#222" stroke-width="0.9" />
<text x="423.00" y="602.40" font-size="9.18" text-anchor="end" fill="#2b2b2b" textLength="13.68" lengthAdjust="spacingAndGlyphs" stroke="#2b2b2b" stroke-width="0.06" >100</text>
<line x1="431.52" y1="675.50" x2="431.52" y2="677.30" stroke="#222" stroke-width="0.9" />
<line x1="435.04" y1="675.50" x2="435.04" y2="677.30" stroke="#222" stroke-width="0.9" />
<line x1="437.54" y1="675.50" x2="437.54" y2="677.30" stroke="#222" stroke-width="0.9" />
<line x1="439.48" y1="675.50" x2="439.48" y2="677.30" stroke="#222" stroke-width="0.9" />
<line x1="441.06" y1="675.50" x2="441.06" y2="677.30" stroke="#222" stroke-width="0.9" />
<line x1="442.40" y1="675.50" x2="442.40" y2="677.30" stroke="#222" stroke-width="0.9" />
<line x1="443.56" y1="675.50" x2="443.56" y2="677.30" stroke="#222" stroke-width="0.9" />
<line x1="444.58" y1="675.50" x2="444.58" y2="677.30" stroke="#222" stroke-width="0.9" />
<line x1="445.50" y1="675.50" x2="445.50" y2="678.70" stroke="#222" stroke-width="0.9" />
<line x1="451.52" y1="675.50" x2="451.52" y2="677.30" stroke="#222" stroke-width="0.9" />
<line x1="455.04" y1="675.50" x2="455.04" y2="677.30" stroke="#222" stroke-width="0.9" />
<line x1="457.54" y1="675.50" x2="457.54" y2="677.30" stroke="#222" stroke-width="0.9" />
<line x1="459.48" y1="675.50" x2="459.48" y2="677.30" stroke="#222" stroke-width="0.9" />
<line x1="461.06" y1="675.50" x2="461.06" y2="677.30" stroke="#222" stroke-width="0.9" />
<line x1="462.40" y1="675.50" x2="462.40" y2="677.30" stroke="#222" stroke-width="0.9" />
<line x1="463.56" y1="675.50" x2="463.56" y2="677.30" stroke="#222" stroke-width="0.9" />
<line x1="464.58" y1="675.50" x2="464.58" y2="677.30" stroke="#222" stroke-width="0.9" />
<text x="447.40" y="689.00" font-size="8.60" text-anchor="end" fill="#2b2b2b" textLength="7.70" lengthAdjust="spacingAndGlyphs" stroke="#2b2b2b" stroke-width="0.06" >10</text>
<text x="447.80" y="685.90" font-size="5.60" text-anchor="start" fill="#2b2b2b" stroke="#2b2b2b" stroke-width="0.05" >2</text>
<line x1="465.50" y1="675.50" x2="465.50" y2="678.70" stroke="#222" stroke-width="0.9" />
<line x1="471.52" y1="675.50" x2="471.52" y2="677.30" stroke="#222" stroke-width="0.9" />
<line x1="475.04" y1="675.50" x2="475.04" y2="677.30" stroke="#222" stroke-width="0.9" />
<line x1="477.54" y1="675.50" x2="477.54" y2="677.30" stroke="#222" stroke-width="0.9" />
<line x1="479.48" y1="675.50" x2="479.48" y2="677.30" stroke="#222" stroke-width="0.9" />
<line x1="481.06" y1="675.50" x2="481.06" y2="677.30" stroke="#222" stroke-width="0.9" />
<line x1="482.40" y1="675.50" x2="482.40" y2="677.30" stroke="#222" stroke-width="0.9" />
<line x1="483.56" y1="675.50" x2="483.56" y2="677.30" stroke="#222" stroke-width="0.9" />
<line x1="484.58" y1="675.50" x2="484.58" y2="677.30" stroke="#222" stroke-width="0.9" />
<text x="467.40" y="689.00" font-size="8.60" text-anchor="end" fill="#2b2b2b" textLength="7.70" lengthAdjust="spacingAndGlyphs" stroke="#2b2b2b" stroke-width="0.06" >10</text>
<text x="467.80" y="685.90" font-size="5.60" text-anchor="start" fill="#2b2b2b" stroke="#2b2b2b" stroke-width="0.05" >3</text>
<line x1="485.50" y1="675.50" x2="485.50" y2="678.70" stroke="#222" stroke-width="0.9" />
<line x1="491.52" y1="675.50" x2="491.52" y2="677.30" stroke="#222" stroke-width="0.9" />
<line x1="495.04" y1="675.50" x2="495.04" y2="677.30" stroke="#222" stroke-width="0.9" />
<line x1="497.54" y1="675.50" x2="497.54" y2="677.30" stroke="#222" stroke-width="0.9" />
<line x1="499.48" y1="675.50" x2="499.48" y2="677.30" stroke="#222" stroke-width="0.9" />
<line x1="501.06" y1="675.50" x2="501.06" y2="677.30" stroke="#222" stroke-width="0.9" />
<line x1="502.40" y1="675.50" x2="502.40" y2="677.30" stroke="#222" stroke-width="0.9" />
<line x1="503.56" y1="675.50" x2="503.56" y2="677.30" stroke="#222" stroke-width="0.9" />
<line x1="504.58" y1="675.50" x2="504.58" y2="677.30" stroke="#222" stroke-width="0.9" />
<text x="487.40" y="689.00" font-size="8.60" text-anchor="end" fill="#2b2b2b" textLength="7.70" lengthAdjust="spacingAndGlyphs" stroke="#2b2b2b" stroke-width="0.06" >10</text>
<text x="487.80" y="685.90" font-size="5.60" text-anchor="start" fill="#2b2b2b" stroke="#2b2b2b" stroke-width="0.05" >4</text>
<line x1="505.50" y1="675.50" x2="505.50" y2="678.70" stroke="#222" stroke-width="0.9" />
<text x="507.40" y="689.00" font-size="8.60" text-anchor="end" fill="#2b2b2b" textLength="7.70" lengthAdjust="spacingAndGlyphs" stroke="#2b2b2b" stroke-width="0.06" >10</text>
<text x="507.80" y="685.90" font-size="5.60" text-anchor="start" fill="#2b2b2b" stroke="#2b2b2b" stroke-width="0.05" >5</text>
<text x="402.60" y="634.50" font-size="9.63" text-anchor="middle" fill="#2b2b2b" textLength="26.28" lengthAdjust="spacingAndGlyphs" stroke="#2b2b2b" stroke-width="0.06" transform="rotate(-90 402.60 634.50)" >% max</text>
<rect x="472.40" y="598.50" width="5.60" height="5.60" fill="#a7a9de" />
<text x="481.20" y="603.90" font-size="9.41" text-anchor="start" fill="#2b2b2b" textLength="25.20" lengthAdjust="spacingAndGlyphs" stroke="#2b2b2b" stroke-width="0.06" >DMSO</text>
<rect x="472.90" y="608.10" width="5.0" height="5.0" fill="#f4fbfb" stroke="#2a5a6a" stroke-width="0.8"/>
<text x="481.20" y="613.70" font-size="9.41" text-anchor="start" fill="#2b2b2b" textLength="28.02" lengthAdjust="spacingAndGlyphs" stroke="#2b2b2b" stroke-width="0.06" >150 nM</text>
<text x="470.40" y="703.40" font-size="9.80" text-anchor="middle" fill="#2b2b2b" textLength="38.40" lengthAdjust="spacingAndGlyphs" stroke="#2b2b2b" stroke-width="0.06" >CFSE (FITC)</text>
<rect x="0.5" y="0.5" width="519" height="712" fill="none" stroke="#545454" stroke-width="1"/>
</svg>
</body></html>
